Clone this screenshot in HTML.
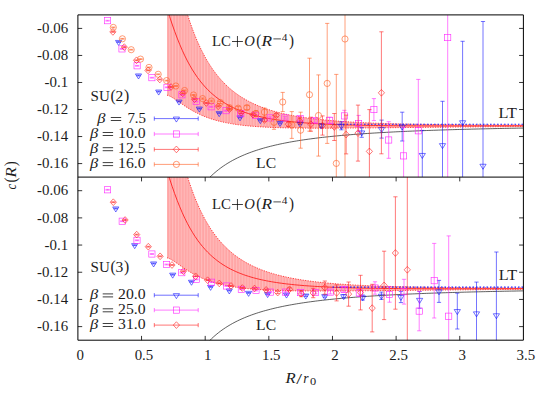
<!DOCTYPE html>
<html><head><meta charset="utf-8"><style>html,body{margin:0;padding:0;background:#fff}svg{display:block}text{font-family:"Liberation Serif",serif;fill:#1c1c1c}</style></head><body>
<svg width="551" height="394" viewBox="0 0 551 394">
<defs>
<clipPath id="clip0"><rect x="77.9" y="14.9" width="445.5" height="162.2"/></clipPath>
<clipPath id="clip1"><rect x="77.9" y="177.1" width="445.5" height="163.1"/></clipPath>
<pattern id="stripes" width="2.9" height="10" patternUnits="userSpaceOnUse"><rect x="0.9" y="0" width="0.75" height="10" fill="#ffc6c6"/><rect x="2.3" y="0" width="0.4" height="10" fill="#ffb4b4"/></pattern>
</defs>
<rect width="551" height="394" fill="#fff"/>
<g clip-path="url(#clip0)">
<path d="M167.00,-35.10 L169.55,-35.10 L172.09,-35.10 L174.64,-35.10 L177.18,-24.60 L179.73,-13.66 L182.27,-3.60 L184.82,5.64 L187.37,14.13 L189.91,21.93 L192.46,29.09 L195.00,35.69 L197.55,41.75 L200.09,47.34 L202.64,52.50 L205.19,57.25 L207.73,61.64 L210.28,65.70 L212.82,69.46 L215.37,72.94 L217.91,76.16 L220.46,79.15 L223.01,81.94 L225.55,84.52 L228.10,86.93 L230.64,89.17 L233.19,91.25 L235.73,93.20 L238.28,95.02 L240.83,96.72 L243.37,98.31 L245.92,99.80 L248.46,101.19 L251.01,102.50 L253.55,103.72 L256.10,104.87 L258.65,105.95 L261.19,106.97 L263.74,107.92 L266.28,108.82 L268.83,109.66 L271.37,110.46 L273.92,111.21 L276.47,111.92 L279.01,112.59 L281.56,113.22 L284.10,113.81 L286.65,114.38 L289.19,114.91 L291.74,115.41 L294.29,115.89 L296.83,116.34 L299.38,116.77 L301.92,117.18 L304.47,117.56 L307.01,117.92 L309.56,118.27 L312.11,118.60 L314.65,118.91 L317.20,119.21 L319.74,119.49 L322.29,119.76 L324.83,120.01 L327.38,120.25 L329.93,120.48 L332.47,120.70 L335.02,120.91 L337.56,121.11 L340.11,121.30 L342.65,121.48 L345.20,121.65 L347.75,121.81 L350.29,121.97 L352.84,122.12 L355.38,122.26 L357.93,122.39 L360.47,122.52 L363.02,122.65 L365.57,122.76 L368.11,122.88 L370.66,122.98 L373.20,123.09 L375.75,123.18 L378.29,123.28 L380.84,123.37 L383.39,123.45 L385.93,123.53 L388.48,123.61 L391.02,123.69 L393.57,123.76 L396.11,123.82 L398.66,123.89 L401.21,123.95 L403.75,124.01 L406.30,124.07 L408.84,124.12 L411.39,124.17 L413.93,124.22 L416.48,124.27 L419.03,124.32 L421.57,124.36 L424.12,124.40 L426.66,124.44 L429.21,124.48 L431.75,124.52 L434.30,124.55 L436.85,124.58 L439.39,124.62 L441.94,124.65 L444.48,124.68 L447.03,124.70 L449.57,124.73 L452.12,124.75 L454.67,124.78 L457.21,124.80 L459.76,124.82 L462.30,124.85 L464.85,124.87 L467.39,124.88 L469.94,124.90 L472.49,124.92 L475.03,124.94 L477.58,124.95 L480.12,124.97 L482.67,124.98 L485.21,125.00 L487.76,125.01 L490.31,125.02 L492.85,125.03 L495.40,125.04 L497.94,125.05 L500.49,125.06 L503.03,125.07 L505.58,125.08 L508.13,125.09 L510.67,125.10 L513.22,125.11 L515.76,125.11 L518.31,125.12 L520.85,125.13 L523.40,125.13 L523.40,126.52 L520.85,126.54 L518.31,126.56 L515.76,126.57 L513.22,126.59 L510.67,126.61 L508.13,126.63 L505.58,126.65 L503.03,126.67 L500.49,126.69 L497.94,126.71 L495.40,126.73 L492.85,126.75 L490.31,126.77 L487.76,126.79 L485.21,126.81 L482.67,126.83 L480.12,126.85 L477.58,126.87 L475.03,126.89 L472.49,126.92 L469.94,126.94 L467.39,126.96 L464.85,126.98 L462.30,127.00 L459.76,127.03 L457.21,127.05 L454.67,127.07 L452.12,127.10 L449.57,127.12 L447.03,127.14 L444.48,127.16 L441.94,127.19 L439.39,127.21 L436.85,127.24 L434.30,127.26 L431.75,127.28 L429.21,127.31 L426.66,127.33 L424.12,127.36 L421.57,127.38 L419.03,127.41 L416.48,127.43 L413.93,127.46 L411.39,127.48 L408.84,127.51 L406.30,127.53 L403.75,127.56 L401.21,127.58 L398.66,127.61 L396.11,127.63 L393.57,127.66 L391.02,127.68 L388.48,127.70 L385.93,127.73 L383.39,127.75 L380.84,127.78 L378.29,127.80 L375.75,127.83 L373.20,127.85 L370.66,127.87 L368.11,127.89 L365.57,127.92 L363.02,127.94 L360.47,127.96 L357.93,127.98 L355.38,128.00 L352.84,128.02 L350.29,128.04 L347.75,128.05 L345.20,128.07 L342.65,128.09 L340.11,128.10 L337.56,128.11 L335.02,128.12 L332.47,128.14 L329.93,128.14 L327.38,128.15 L324.83,128.16 L322.29,128.16 L319.74,128.16 L317.20,128.16 L314.65,128.15 L312.11,128.15 L309.56,128.14 L307.01,128.12 L304.47,128.11 L301.92,128.08 L299.38,128.06 L296.83,128.03 L294.29,128.00 L291.74,127.96 L289.19,127.91 L286.65,127.86 L284.10,127.80 L281.56,127.74 L279.01,127.67 L276.47,127.58 L273.92,127.49 L271.37,127.39 L268.83,127.28 L266.28,127.16 L263.74,127.03 L261.19,126.88 L258.65,126.72 L256.10,126.54 L253.55,126.35 L251.01,126.14 L248.46,125.91 L245.92,125.66 L243.37,125.38 L240.83,125.08 L238.28,124.75 L235.73,124.39 L233.19,124.01 L230.64,123.58 L228.10,123.12 L225.55,122.62 L223.01,122.08 L220.46,121.49 L217.91,120.84 L215.37,120.15 L212.82,119.39 L210.28,118.57 L207.73,117.68 L205.19,116.72 L202.64,115.69 L200.09,114.57 L197.55,113.36 L195.00,112.06 L192.46,110.68 L189.91,109.20 L187.37,107.63 L184.82,105.98 L182.27,104.26 L179.73,102.50 L177.18,100.72 L174.64,98.99 L172.09,97.38 L169.55,96.02 L167.00,95.10 Z" fill="#ffa2a2" stroke="none"/>
<path d="M167.00,-35.10 L169.55,-35.10 L172.09,-35.10 L174.64,-35.10 L177.18,-24.60 L179.73,-13.66 L182.27,-3.60 L184.82,5.64 L187.37,14.13 L189.91,21.93 L192.46,29.09 L195.00,35.69 L197.55,41.75 L200.09,47.34 L202.64,52.50 L205.19,57.25 L207.73,61.64 L210.28,65.70 L212.82,69.46 L215.37,72.94 L217.91,76.16 L220.46,79.15 L223.01,81.94 L225.55,84.52 L228.10,86.93 L230.64,89.17 L233.19,91.25 L235.73,93.20 L238.28,95.02 L240.83,96.72 L243.37,98.31 L245.92,99.80 L248.46,101.19 L251.01,102.50 L253.55,103.72 L256.10,104.87 L258.65,105.95 L261.19,106.97 L263.74,107.92 L266.28,108.82 L268.83,109.66 L271.37,110.46 L273.92,111.21 L276.47,111.92 L279.01,112.59 L281.56,113.22 L284.10,113.81 L286.65,114.38 L289.19,114.91 L291.74,115.41 L294.29,115.89 L296.83,116.34 L299.38,116.77 L301.92,117.18 L304.47,117.56 L307.01,117.92 L309.56,118.27 L312.11,118.60 L314.65,118.91 L317.20,119.21 L319.74,119.49 L322.29,119.76 L324.83,120.01 L327.38,120.25 L329.93,120.48 L332.47,120.70 L335.02,120.91 L337.56,121.11 L340.11,121.30 L342.65,121.48 L345.20,121.65 L347.75,121.81 L350.29,121.97 L352.84,122.12 L355.38,122.26 L357.93,122.39 L360.47,122.52 L363.02,122.65 L365.57,122.76 L368.11,122.88 L370.66,122.98 L373.20,123.09 L375.75,123.18 L378.29,123.28 L380.84,123.37 L383.39,123.45 L385.93,123.53 L388.48,123.61 L391.02,123.69 L393.57,123.76 L396.11,123.82 L398.66,123.89 L401.21,123.95 L403.75,124.01 L406.30,124.07 L408.84,124.12 L411.39,124.17 L413.93,124.22 L416.48,124.27 L419.03,124.32 L421.57,124.36 L424.12,124.40 L426.66,124.44 L429.21,124.48 L431.75,124.52 L434.30,124.55 L436.85,124.58 L439.39,124.62 L441.94,124.65 L444.48,124.68 L447.03,124.70 L449.57,124.73 L452.12,124.75 L454.67,124.78 L457.21,124.80 L459.76,124.82 L462.30,124.85 L464.85,124.87 L467.39,124.88 L469.94,124.90 L472.49,124.92 L475.03,124.94 L477.58,124.95 L480.12,124.97 L482.67,124.98 L485.21,125.00 L487.76,125.01 L490.31,125.02 L492.85,125.03 L495.40,125.04 L497.94,125.05 L500.49,125.06 L503.03,125.07 L505.58,125.08 L508.13,125.09 L510.67,125.10 L513.22,125.11 L515.76,125.11 L518.31,125.12 L520.85,125.13 L523.40,125.13 L523.40,126.52 L520.85,126.54 L518.31,126.56 L515.76,126.57 L513.22,126.59 L510.67,126.61 L508.13,126.63 L505.58,126.65 L503.03,126.67 L500.49,126.69 L497.94,126.71 L495.40,126.73 L492.85,126.75 L490.31,126.77 L487.76,126.79 L485.21,126.81 L482.67,126.83 L480.12,126.85 L477.58,126.87 L475.03,126.89 L472.49,126.92 L469.94,126.94 L467.39,126.96 L464.85,126.98 L462.30,127.00 L459.76,127.03 L457.21,127.05 L454.67,127.07 L452.12,127.10 L449.57,127.12 L447.03,127.14 L444.48,127.16 L441.94,127.19 L439.39,127.21 L436.85,127.24 L434.30,127.26 L431.75,127.28 L429.21,127.31 L426.66,127.33 L424.12,127.36 L421.57,127.38 L419.03,127.41 L416.48,127.43 L413.93,127.46 L411.39,127.48 L408.84,127.51 L406.30,127.53 L403.75,127.56 L401.21,127.58 L398.66,127.61 L396.11,127.63 L393.57,127.66 L391.02,127.68 L388.48,127.70 L385.93,127.73 L383.39,127.75 L380.84,127.78 L378.29,127.80 L375.75,127.83 L373.20,127.85 L370.66,127.87 L368.11,127.89 L365.57,127.92 L363.02,127.94 L360.47,127.96 L357.93,127.98 L355.38,128.00 L352.84,128.02 L350.29,128.04 L347.75,128.05 L345.20,128.07 L342.65,128.09 L340.11,128.10 L337.56,128.11 L335.02,128.12 L332.47,128.14 L329.93,128.14 L327.38,128.15 L324.83,128.16 L322.29,128.16 L319.74,128.16 L317.20,128.16 L314.65,128.15 L312.11,128.15 L309.56,128.14 L307.01,128.12 L304.47,128.11 L301.92,128.08 L299.38,128.06 L296.83,128.03 L294.29,128.00 L291.74,127.96 L289.19,127.91 L286.65,127.86 L284.10,127.80 L281.56,127.74 L279.01,127.67 L276.47,127.58 L273.92,127.49 L271.37,127.39 L268.83,127.28 L266.28,127.16 L263.74,127.03 L261.19,126.88 L258.65,126.72 L256.10,126.54 L253.55,126.35 L251.01,126.14 L248.46,125.91 L245.92,125.66 L243.37,125.38 L240.83,125.08 L238.28,124.75 L235.73,124.39 L233.19,124.01 L230.64,123.58 L228.10,123.12 L225.55,122.62 L223.01,122.08 L220.46,121.49 L217.91,120.84 L215.37,120.15 L212.82,119.39 L210.28,118.57 L207.73,117.68 L205.19,116.72 L202.64,115.69 L200.09,114.57 L197.55,113.36 L195.00,112.06 L192.46,110.68 L189.91,109.20 L187.37,107.63 L184.82,105.98 L182.27,104.26 L179.73,102.50 L177.18,100.72 L174.64,98.99 L172.09,97.38 L169.55,96.02 L167.00,95.10 Z" fill="url(#stripes)" stroke="none"/>
<path d="M167.00,-35.10 L169.55,-35.10 L172.09,-35.10 L174.64,-35.10 L177.18,-24.60 L179.73,-13.66 L182.27,-3.60 L184.82,5.64 L187.37,14.13 L189.91,21.93 L192.46,29.09 L195.00,35.69 L197.55,41.75 L200.09,47.34 L202.64,52.50 L205.19,57.25 L207.73,61.64 L210.28,65.70 L212.82,69.46 L215.37,72.94 L217.91,76.16 L220.46,79.15 L223.01,81.94 L225.55,84.52 L228.10,86.93 L230.64,89.17 L233.19,91.25 L235.73,93.20 L238.28,95.02 L240.83,96.72 L243.37,98.31 L245.92,99.80 L248.46,101.19 L251.01,102.50 L253.55,103.72 L256.10,104.87 L258.65,105.95 L261.19,106.97 L263.74,107.92 L266.28,108.82 L268.83,109.66 L271.37,110.46 L273.92,111.21 L276.47,111.92 L279.01,112.59 L281.56,113.22 L284.10,113.81 L286.65,114.38 L289.19,114.91 L291.74,115.41 L294.29,115.89 L296.83,116.34 L299.38,116.77 L301.92,117.18 L304.47,117.56 L307.01,117.92 L309.56,118.27 L312.11,118.60 L314.65,118.91 L317.20,119.21 L319.74,119.49 L322.29,119.76 L324.83,120.01 L327.38,120.25 L329.93,120.48 L332.47,120.70 L335.02,120.91 L337.56,121.11 L340.11,121.30 L342.65,121.48 L345.20,121.65 L347.75,121.81 L350.29,121.97 L352.84,122.12 L355.38,122.26 L357.93,122.39 L360.47,122.52 L363.02,122.65 L365.57,122.76 L368.11,122.88 L370.66,122.98 L373.20,123.09 L375.75,123.18 L378.29,123.28 L380.84,123.37 L383.39,123.45 L385.93,123.53 L388.48,123.61 L391.02,123.69 L393.57,123.76 L396.11,123.82 L398.66,123.89 L401.21,123.95 L403.75,124.01 L406.30,124.07 L408.84,124.12 L411.39,124.17 L413.93,124.22 L416.48,124.27 L419.03,124.32 L421.57,124.36 L424.12,124.40 L426.66,124.44 L429.21,124.48 L431.75,124.52 L434.30,124.55 L436.85,124.58 L439.39,124.62 L441.94,124.65 L444.48,124.68 L447.03,124.70 L449.57,124.73 L452.12,124.75 L454.67,124.78 L457.21,124.80 L459.76,124.82 L462.30,124.85 L464.85,124.87 L467.39,124.88 L469.94,124.90 L472.49,124.92 L475.03,124.94 L477.58,124.95 L480.12,124.97 L482.67,124.98 L485.21,125.00 L487.76,125.01 L490.31,125.02 L492.85,125.03 L495.40,125.04 L497.94,125.05 L500.49,125.06 L503.03,125.07 L505.58,125.08 L508.13,125.09 L510.67,125.10 L513.22,125.11 L515.76,125.11 L518.31,125.12 L520.85,125.13 L523.40,125.13" fill="none" stroke="#ff3030" stroke-width="0.9" stroke-dasharray="1.2,1.3"/>
<path d="M167.00,95.10 L169.55,96.02 L172.09,97.38 L174.64,98.99 L177.18,100.72 L179.73,102.50 L182.27,104.26 L184.82,105.98 L187.37,107.63 L189.91,109.20 L192.46,110.68 L195.00,112.06 L197.55,113.36 L200.09,114.57 L202.64,115.69 L205.19,116.72 L207.73,117.68 L210.28,118.57 L212.82,119.39 L215.37,120.15 L217.91,120.84 L220.46,121.49 L223.01,122.08 L225.55,122.62 L228.10,123.12 L230.64,123.58 L233.19,124.01 L235.73,124.39 L238.28,124.75 L240.83,125.08 L243.37,125.38 L245.92,125.66 L248.46,125.91 L251.01,126.14 L253.55,126.35 L256.10,126.54 L258.65,126.72 L261.19,126.88 L263.74,127.03 L266.28,127.16 L268.83,127.28 L271.37,127.39 L273.92,127.49 L276.47,127.58 L279.01,127.67 L281.56,127.74 L284.10,127.80 L286.65,127.86 L289.19,127.91 L291.74,127.96 L294.29,128.00 L296.83,128.03 L299.38,128.06 L301.92,128.08 L304.47,128.11 L307.01,128.12 L309.56,128.14 L312.11,128.15 L314.65,128.15 L317.20,128.16 L319.74,128.16 L322.29,128.16 L324.83,128.16 L327.38,128.15 L329.93,128.14 L332.47,128.14 L335.02,128.12 L337.56,128.11 L340.11,128.10 L342.65,128.09 L345.20,128.07 L347.75,128.05 L350.29,128.04 L352.84,128.02 L355.38,128.00 L357.93,127.98 L360.47,127.96 L363.02,127.94 L365.57,127.92 L368.11,127.89 L370.66,127.87 L373.20,127.85 L375.75,127.83 L378.29,127.80 L380.84,127.78 L383.39,127.75 L385.93,127.73 L388.48,127.70 L391.02,127.68 L393.57,127.66 L396.11,127.63 L398.66,127.61 L401.21,127.58 L403.75,127.56 L406.30,127.53 L408.84,127.51 L411.39,127.48 L413.93,127.46 L416.48,127.43 L419.03,127.41 L421.57,127.38 L424.12,127.36 L426.66,127.33 L429.21,127.31 L431.75,127.28 L434.30,127.26 L436.85,127.24 L439.39,127.21 L441.94,127.19 L444.48,127.16 L447.03,127.14 L449.57,127.12 L452.12,127.10 L454.67,127.07 L457.21,127.05 L459.76,127.03 L462.30,127.00 L464.85,126.98 L467.39,126.96 L469.94,126.94 L472.49,126.92 L475.03,126.89 L477.58,126.87 L480.12,126.85 L482.67,126.83 L485.21,126.81 L487.76,126.79 L490.31,126.77 L492.85,126.75 L495.40,126.73 L497.94,126.71 L500.49,126.69 L503.03,126.67 L505.58,126.65 L508.13,126.63 L510.67,126.61 L513.22,126.59 L515.76,126.57 L518.31,126.56 L520.85,126.54 L523.40,126.52" fill="none" stroke="#ff3030" stroke-width="0.9" stroke-dasharray="1.2,1.3"/>
<path d="M167.00,8.40 L169.55,16.35 L172.09,24.00 L174.64,31.25 L177.18,38.06 L179.73,44.42 L182.27,50.33 L184.82,55.81 L187.37,60.88 L189.91,65.56 L192.46,69.89 L195.00,73.88 L197.55,77.56 L200.09,80.95 L202.64,84.09 L205.19,86.99 L207.73,89.66 L210.28,92.14 L212.82,94.42 L215.37,96.54 L217.91,98.50 L220.46,100.32 L223.01,102.01 L225.55,103.57 L228.10,105.02 L230.64,106.37 L233.19,107.63 L235.73,108.80 L238.28,109.89 L240.83,110.90 L243.37,111.85 L245.92,112.73 L248.46,113.55 L251.01,114.32 L253.55,115.04 L256.10,115.71 L258.65,116.34 L261.19,116.92 L263.74,117.47 L266.28,117.99 L268.83,118.47 L271.37,118.93 L273.92,119.35 L276.47,119.75 L279.01,120.13 L281.56,120.48 L284.10,120.81 L286.65,121.12 L289.19,121.41 L291.74,121.69 L294.29,121.94 L296.83,122.19 L299.38,122.42 L301.92,122.63 L304.47,122.83 L307.01,123.02 L309.56,123.20 L312.11,123.37 L314.65,123.53 L317.20,123.68 L319.74,123.82 L322.29,123.96 L324.83,124.08 L327.38,124.20 L329.93,124.31 L332.47,124.42 L335.02,124.52 L337.56,124.61 L340.11,124.70 L342.65,124.78 L345.20,124.86 L347.75,124.93 L350.29,125.00 L352.84,125.07 L355.38,125.13 L357.93,125.19 L360.47,125.24 L363.02,125.29 L365.57,125.34 L368.11,125.39 L370.66,125.43 L373.20,125.47 L375.75,125.50 L378.29,125.54 L380.84,125.57 L383.39,125.60 L385.93,125.63 L388.48,125.66 L391.02,125.68 L393.57,125.71 L396.11,125.73 L398.66,125.75 L401.21,125.77 L403.75,125.78 L406.30,125.80 L408.84,125.81 L411.39,125.83 L413.93,125.84 L416.48,125.85 L419.03,125.86 L421.57,125.87 L424.12,125.88 L426.66,125.89 L429.21,125.89 L431.75,125.90 L434.30,125.91 L436.85,125.91 L439.39,125.91 L441.94,125.92 L444.48,125.92 L447.03,125.92 L449.57,125.92 L452.12,125.92 L454.67,125.93 L457.21,125.93 L459.76,125.93 L462.30,125.92 L464.85,125.92 L467.39,125.92 L469.94,125.92 L472.49,125.92 L475.03,125.92 L477.58,125.91 L480.12,125.91 L482.67,125.91 L485.21,125.90 L487.76,125.90 L490.31,125.89 L492.85,125.89 L495.40,125.89 L497.94,125.88 L500.49,125.88 L503.03,125.87 L505.58,125.87 L508.13,125.86 L510.67,125.86 L513.22,125.85 L515.76,125.84 L518.31,125.84 L520.85,125.83 L523.40,125.83" fill="none" stroke="#ff2020" stroke-width="0.9"/>
<path d="M332.47,124.25 H523.4" stroke="#2020ff" stroke-width="1.2" stroke-dasharray="1.6,1.9" fill="none"/>
<path d="M192.46,200.60 L194.82,196.55 L197.18,192.83 L199.55,189.41 L201.91,186.26 L204.28,183.34 L206.64,180.64 L209.00,178.13 L211.37,175.79 L213.73,173.61 L216.10,171.58 L218.46,169.67 L220.82,167.88 L223.19,166.20 L225.55,164.62 L227.92,163.13 L230.28,161.73 L232.64,160.40 L235.01,159.15 L237.37,157.96 L239.73,156.84 L242.10,155.77 L244.46,154.76 L246.83,153.79 L249.19,152.88 L251.55,152.00 L253.92,151.17 L256.28,150.38 L258.65,149.62 L261.01,148.89 L263.37,148.20 L265.74,147.53 L268.10,146.90 L270.47,146.29 L272.83,145.71 L275.19,145.14 L277.56,144.61 L279.92,144.09 L282.28,143.59 L284.65,143.11 L287.01,142.65 L289.38,142.21 L291.74,141.78 L294.10,141.37 L296.47,140.97 L298.83,140.59 L301.20,140.22 L303.56,139.86 L305.92,139.52 L308.29,139.19 L310.65,138.86 L313.01,138.55 L315.38,138.25 L317.74,137.96 L320.11,137.67 L322.47,137.40 L324.83,137.13 L327.20,136.88 L329.56,136.63 L331.93,136.38 L334.29,136.15 L336.65,135.92 L339.02,135.70 L341.38,135.48 L343.75,135.27 L346.11,135.07 L348.47,134.87 L350.84,134.68 L353.20,134.49 L355.56,134.31 L357.93,134.14 L360.29,133.96 L362.66,133.80 L365.02,133.63 L367.38,133.47 L369.75,133.32 L372.11,133.17 L374.48,133.02 L376.84,132.88 L379.20,132.74 L381.57,132.60 L383.93,132.47 L386.30,132.34 L388.66,132.21 L391.02,132.08 L393.39,131.96 L395.75,131.84 L398.11,131.73 L400.48,131.62 L402.84,131.51 L405.21,131.40 L407.57,131.29 L409.93,131.19 L412.30,131.09 L414.66,130.99 L417.03,130.89 L419.39,130.80 L421.75,130.71 L424.12,130.62 L426.48,130.53 L428.84,130.44 L431.21,130.35 L433.57,130.27 L435.94,130.19 L438.30,130.11 L440.66,130.03 L443.03,129.96 L445.39,129.88 L447.76,129.81 L450.12,129.73 L452.48,129.66 L454.85,129.59 L457.21,129.53 L459.58,129.46 L461.94,129.39 L464.30,129.33 L466.67,129.27 L469.03,129.21 L471.39,129.14 L473.76,129.08 L476.12,129.03 L478.49,128.97 L480.85,128.91 L483.21,128.86 L485.58,128.80 L487.94,128.75 L490.31,128.70 L492.67,128.65 L495.03,128.59 L497.40,128.54 L499.76,128.50 L502.13,128.45 L504.49,128.40 L506.85,128.35 L509.22,128.31 L511.58,128.26 L513.94,128.22 L516.31,128.18 L518.67,128.13 L521.04,128.09 L523.40,128.05" fill="none" stroke="#222" stroke-width="0.72"/>
</g>
<g clip-path="url(#clip0)">
<path d="M118.60,41.60 V42.40 M116.50,41.60 H120.70 M116.50,42.40 H120.70" stroke="#1010ff" stroke-width="0.58" fill="none"/>
<path d="M115.50,40.45 L121.70,40.45 L118.60,45.47 Z" fill="none" stroke="#1010ff" stroke-width="0.6"/>
<path d="M138.50,75.10 V75.90 M136.40,75.10 H140.60 M136.40,75.90 H140.60" stroke="#1010ff" stroke-width="0.58" fill="none"/>
<path d="M135.40,73.95 L141.60,73.95 L138.50,78.97 Z" fill="none" stroke="#1010ff" stroke-width="0.6"/>
<path d="M158.70,91.20 V92.00 M156.60,91.20 H160.80 M156.60,92.00 H160.80" stroke="#1010ff" stroke-width="0.58" fill="none"/>
<path d="M155.60,90.05 L161.80,90.05 L158.70,95.07 Z" fill="none" stroke="#1010ff" stroke-width="0.6"/>
<path d="M179.00,101.20 V102.00 M176.90,101.20 H181.10 M176.90,102.00 H181.10" stroke="#1010ff" stroke-width="0.58" fill="none"/>
<path d="M175.90,100.05 L182.10,100.05 L179.00,105.07 Z" fill="none" stroke="#1010ff" stroke-width="0.6"/>
<path d="M199.30,108.20 V109.00 M197.20,108.20 H201.40 M197.20,109.00 H201.40" stroke="#1010ff" stroke-width="0.58" fill="none"/>
<path d="M196.20,107.05 L202.40,107.05 L199.30,112.07 Z" fill="none" stroke="#1010ff" stroke-width="0.6"/>
<path d="M219.20,112.70 V113.70 M217.10,112.70 H221.30 M217.10,113.70 H221.30" stroke="#1010ff" stroke-width="0.58" fill="none"/>
<path d="M216.10,111.65 L222.30,111.65 L219.20,116.67 Z" fill="none" stroke="#1010ff" stroke-width="0.6"/>
<path d="M240.00,116.90 V117.90 M237.90,116.90 H242.10 M237.90,117.90 H242.10" stroke="#1010ff" stroke-width="0.58" fill="none"/>
<path d="M236.90,115.85 L243.10,115.85 L240.00,120.87 Z" fill="none" stroke="#1010ff" stroke-width="0.6"/>
<path d="M260.30,119.60 V120.80 M258.20,119.60 H262.40 M258.20,120.80 H262.40" stroke="#1010ff" stroke-width="0.58" fill="none"/>
<path d="M257.20,118.65 L263.40,118.65 L260.30,123.67 Z" fill="none" stroke="#1010ff" stroke-width="0.6"/>
<path d="M280.00,122.20 V123.80 M277.90,122.20 H282.10 M277.90,123.80 H282.10" stroke="#1010ff" stroke-width="0.58" fill="none"/>
<path d="M276.90,121.45 L283.10,121.45 L280.00,126.47 Z" fill="none" stroke="#1010ff" stroke-width="0.6"/>
<path d="M300.10,122.60 V124.60 M298.00,122.60 H302.20 M298.00,124.60 H302.20" stroke="#1010ff" stroke-width="0.58" fill="none"/>
<path d="M297.00,122.05 L303.20,122.05 L300.10,127.07 Z" fill="none" stroke="#1010ff" stroke-width="0.6"/>
<path d="M321.40,123.80 V127.40 M319.30,123.80 H323.50 M319.30,127.40 H323.50" stroke="#1010ff" stroke-width="0.58" fill="none"/>
<path d="M318.30,124.05 L324.50,124.05 L321.40,129.07 Z" fill="none" stroke="#1010ff" stroke-width="0.6"/>
<path d="M341.40,121.80 V129.80 M339.30,121.80 H343.50 M339.30,129.80 H343.50" stroke="#1010ff" stroke-width="0.58" fill="none"/>
<path d="M338.30,124.25 L344.50,124.25 L341.40,129.27 Z" fill="none" stroke="#1010ff" stroke-width="0.6"/>
<path d="M361.70,127.70 V137.30 M359.60,127.70 H363.80 M359.60,137.30 H363.80" stroke="#1010ff" stroke-width="0.58" fill="none"/>
<path d="M358.60,130.95 L364.80,130.95 L361.70,135.97 Z" fill="none" stroke="#1010ff" stroke-width="0.6"/>
<path d="M381.60,120.10 V138.10 M379.50,120.10 H383.70 M379.50,138.10 H383.70" stroke="#1010ff" stroke-width="0.58" fill="none"/>
<path d="M378.50,127.55 L384.70,127.55 L381.60,132.57 Z" fill="none" stroke="#1010ff" stroke-width="0.6"/>
<path d="M402.20,112.20 V141.00 M400.10,112.20 H404.30 M400.10,141.00 H404.30" stroke="#1010ff" stroke-width="0.58" fill="none"/>
<path d="M399.10,125.05 L405.30,125.05 L402.20,130.07 Z" fill="none" stroke="#1010ff" stroke-width="0.6"/>
<path d="M422.30,130.40 V179.60 M420.20,130.40 H424.40 M420.20,179.60 H424.40" stroke="#1010ff" stroke-width="0.58" fill="none"/>
<path d="M419.20,153.45 L425.40,153.45 L422.30,158.47 Z" fill="none" stroke="#1010ff" stroke-width="0.6"/>
<path d="M442.50,101.30 V189.10 M440.40,101.30 H444.60 M440.40,189.10 H444.60" stroke="#1010ff" stroke-width="0.58" fill="none"/>
<path d="M439.40,143.65 L445.60,143.65 L442.50,148.67 Z" fill="none" stroke="#1010ff" stroke-width="0.6"/>
<path d="M462.60,41.30 V203.30 M460.50,41.30 H464.70 M460.50,203.30 H464.70" stroke="#1010ff" stroke-width="0.58" fill="none"/>
<path d="M459.50,120.75 L465.70,120.75 L462.60,125.77 Z" fill="none" stroke="#1010ff" stroke-width="0.6"/>
<path d="M483.00,21.50 V310.10 M480.90,21.50 H485.10 M480.90,310.10 H485.10" stroke="#1010ff" stroke-width="0.58" fill="none"/>
<path d="M479.90,164.25 L486.10,164.25 L483.00,169.27 Z" fill="none" stroke="#1010ff" stroke-width="0.6"/>
<path d="M107.60,20.30 V21.10 M105.50,20.30 H109.70 M105.50,21.10 H109.70" stroke="#ff22ff" stroke-width="0.58" fill="none"/>
<rect x="104.50" y="17.60" width="6.2" height="6.2" fill="none" stroke="#ff22ff" stroke-width="0.6"/>
<path d="M122.00,48.50 V49.30 M119.90,48.50 H124.10 M119.90,49.30 H124.10" stroke="#ff22ff" stroke-width="0.58" fill="none"/>
<rect x="118.90" y="45.80" width="6.2" height="6.2" fill="none" stroke="#ff22ff" stroke-width="0.6"/>
<path d="M137.10,65.40 V66.20 M135.00,65.40 H139.20 M135.00,66.20 H139.20" stroke="#ff22ff" stroke-width="0.58" fill="none"/>
<rect x="134.00" y="62.70" width="6.2" height="6.2" fill="none" stroke="#ff22ff" stroke-width="0.6"/>
<path d="M151.90,77.30 V78.10 M149.80,77.30 H154.00 M149.80,78.10 H154.00" stroke="#ff22ff" stroke-width="0.58" fill="none"/>
<rect x="148.80" y="74.60" width="6.2" height="6.2" fill="none" stroke="#ff22ff" stroke-width="0.6"/>
<path d="M167.00,86.90 V87.70 M164.90,86.90 H169.10 M164.90,87.70 H169.10" stroke="#ff22ff" stroke-width="0.58" fill="none"/>
<rect x="163.90" y="84.20" width="6.2" height="6.2" fill="none" stroke="#ff22ff" stroke-width="0.6"/>
<path d="M181.90,94.40 V95.20 M179.80,94.40 H184.00 M179.80,95.20 H184.00" stroke="#ff22ff" stroke-width="0.58" fill="none"/>
<rect x="178.80" y="91.70" width="6.2" height="6.2" fill="none" stroke="#ff22ff" stroke-width="0.6"/>
<path d="M196.20,101.10 V101.90 M194.10,101.10 H198.30 M194.10,101.90 H198.30" stroke="#ff22ff" stroke-width="0.58" fill="none"/>
<rect x="193.10" y="98.40" width="6.2" height="6.2" fill="none" stroke="#ff22ff" stroke-width="0.6"/>
<path d="M211.10,106.30 V107.30 M209.00,106.30 H213.20 M209.00,107.30 H213.20" stroke="#ff22ff" stroke-width="0.58" fill="none"/>
<rect x="208.00" y="103.70" width="6.2" height="6.2" fill="none" stroke="#ff22ff" stroke-width="0.6"/>
<path d="M226.00,110.20 V111.20 M223.90,110.20 H228.10 M223.90,111.20 H228.10" stroke="#ff22ff" stroke-width="0.58" fill="none"/>
<rect x="222.90" y="107.60" width="6.2" height="6.2" fill="none" stroke="#ff22ff" stroke-width="0.6"/>
<path d="M240.80,113.10 V114.30 M238.70,113.10 H242.90 M238.70,114.30 H242.90" stroke="#ff22ff" stroke-width="0.58" fill="none"/>
<rect x="237.70" y="110.60" width="6.2" height="6.2" fill="none" stroke="#ff22ff" stroke-width="0.6"/>
<path d="M255.50,114.50 V116.10 M253.40,114.50 H257.60 M253.40,116.10 H257.60" stroke="#ff22ff" stroke-width="0.58" fill="none"/>
<rect x="252.40" y="112.20" width="6.2" height="6.2" fill="none" stroke="#ff22ff" stroke-width="0.6"/>
<path d="M270.20,116.90 V118.90 M268.10,116.90 H272.30 M268.10,118.90 H272.30" stroke="#ff22ff" stroke-width="0.58" fill="none"/>
<rect x="267.10" y="114.80" width="6.2" height="6.2" fill="none" stroke="#ff22ff" stroke-width="0.6"/>
<path d="M284.90,116.70 V119.10 M282.80,116.70 H287.00 M282.80,119.10 H287.00" stroke="#ff22ff" stroke-width="0.58" fill="none"/>
<rect x="281.80" y="114.80" width="6.2" height="6.2" fill="none" stroke="#ff22ff" stroke-width="0.6"/>
<path d="M300.10,116.50 V120.50 M298.00,116.50 H302.20 M298.00,120.50 H302.20" stroke="#ff22ff" stroke-width="0.58" fill="none"/>
<rect x="297.00" y="115.40" width="6.2" height="6.2" fill="none" stroke="#ff22ff" stroke-width="0.6"/>
<path d="M314.70,118.40 V122.40 M312.60,118.40 H316.80 M312.60,122.40 H316.80" stroke="#ff22ff" stroke-width="0.58" fill="none"/>
<rect x="311.60" y="117.30" width="6.2" height="6.2" fill="none" stroke="#ff22ff" stroke-width="0.6"/>
<path d="M329.60,117.30 V123.30 M327.50,117.30 H331.70 M327.50,123.30 H331.70" stroke="#ff22ff" stroke-width="0.58" fill="none"/>
<rect x="326.50" y="117.20" width="6.2" height="6.2" fill="none" stroke="#ff22ff" stroke-width="0.6"/>
<path d="M344.40,110.30 V121.50 M342.30,110.30 H346.50 M342.30,121.50 H346.50" stroke="#ff22ff" stroke-width="0.58" fill="none"/>
<rect x="341.30" y="112.80" width="6.2" height="6.2" fill="none" stroke="#ff22ff" stroke-width="0.6"/>
<path d="M358.60,115.40 V131.40 M356.50,115.40 H360.70 M356.50,131.40 H360.70" stroke="#ff22ff" stroke-width="0.58" fill="none"/>
<rect x="355.50" y="120.30" width="6.2" height="6.2" fill="none" stroke="#ff22ff" stroke-width="0.6"/>
<path d="M373.90,98.60 V120.60 M371.80,98.60 H376.00 M371.80,120.60 H376.00" stroke="#ff22ff" stroke-width="0.58" fill="none"/>
<rect x="370.80" y="106.50" width="6.2" height="6.2" fill="none" stroke="#ff22ff" stroke-width="0.6"/>
<path d="M388.70,121.70 V158.30 M386.60,121.70 H390.80 M386.60,158.30 H390.80" stroke="#ff22ff" stroke-width="0.58" fill="none"/>
<rect x="385.60" y="136.90" width="6.2" height="6.2" fill="none" stroke="#ff22ff" stroke-width="0.6"/>
<path d="M403.60,127.30 V184.50 M401.50,127.30 H405.70 M401.50,184.50 H405.70" stroke="#ff22ff" stroke-width="0.58" fill="none"/>
<rect x="400.50" y="152.80" width="6.2" height="6.2" fill="none" stroke="#ff22ff" stroke-width="0.6"/>
<path d="M418.30,79.40 V182.20 M416.20,79.40 H420.40 M416.20,182.20 H420.40" stroke="#ff22ff" stroke-width="0.58" fill="none"/>
<rect x="415.20" y="127.70" width="6.2" height="6.2" fill="none" stroke="#ff22ff" stroke-width="0.6"/>
<path d="M447.70,-162.40 V237.60 M445.60,-162.40 H449.80 M445.60,237.60 H449.80" stroke="#ff22ff" stroke-width="0.58" fill="none"/>
<rect x="444.60" y="34.50" width="6.2" height="6.2" fill="none" stroke="#ff22ff" stroke-width="0.6"/>
<path d="M112.90,31.50 V32.30 M110.80,31.50 H115.00 M110.80,32.30 H115.00" stroke="#ff1a1a" stroke-width="0.58" fill="none"/>
<path d="M109.80,31.90 L112.90,28.55 L116.00,31.90 L112.90,35.25 Z" fill="none" stroke="#ff1a1a" stroke-width="0.6"/>
<path d="M124.30,46.70 V47.50 M122.20,46.70 H126.40 M122.20,47.50 H126.40" stroke="#ff1a1a" stroke-width="0.58" fill="none"/>
<path d="M121.20,47.10 L124.30,43.75 L127.40,47.10 L124.30,50.45 Z" fill="none" stroke="#ff1a1a" stroke-width="0.6"/>
<path d="M136.50,59.90 V60.70 M134.40,59.90 H138.60 M134.40,60.70 H138.60" stroke="#ff1a1a" stroke-width="0.58" fill="none"/>
<path d="M133.40,60.30 L136.50,56.95 L139.60,60.30 L136.50,63.65 Z" fill="none" stroke="#ff1a1a" stroke-width="0.6"/>
<path d="M148.00,70.00 V70.80 M145.90,70.00 H150.10 M145.90,70.80 H150.10" stroke="#ff1a1a" stroke-width="0.58" fill="none"/>
<path d="M144.90,70.40 L148.00,67.05 L151.10,70.40 L148.00,73.75 Z" fill="none" stroke="#ff1a1a" stroke-width="0.6"/>
<path d="M159.80,79.10 V79.90 M157.70,79.10 H161.90 M157.70,79.90 H161.90" stroke="#ff1a1a" stroke-width="0.58" fill="none"/>
<path d="M156.70,79.50 L159.80,76.15 L162.90,79.50 L159.80,82.85 Z" fill="none" stroke="#ff1a1a" stroke-width="0.6"/>
<path d="M171.00,86.60 V87.40 M168.90,86.60 H173.10 M168.90,87.40 H173.10" stroke="#ff1a1a" stroke-width="0.58" fill="none"/>
<path d="M167.90,87.00 L171.00,83.65 L174.10,87.00 L171.00,90.35 Z" fill="none" stroke="#ff1a1a" stroke-width="0.6"/>
<path d="M182.80,93.00 V93.80 M180.70,93.00 H184.90 M180.70,93.80 H184.90" stroke="#ff1a1a" stroke-width="0.58" fill="none"/>
<path d="M179.70,93.40 L182.80,90.05 L185.90,93.40 L182.80,96.75 Z" fill="none" stroke="#ff1a1a" stroke-width="0.6"/>
<path d="M194.50,98.80 V99.60 M192.40,98.80 H196.60 M192.40,99.60 H196.60" stroke="#ff1a1a" stroke-width="0.58" fill="none"/>
<path d="M191.40,99.20 L194.50,95.85 L197.60,99.20 L194.50,102.55 Z" fill="none" stroke="#ff1a1a" stroke-width="0.6"/>
<path d="M206.30,102.50 V103.50 M204.20,102.50 H208.40 M204.20,103.50 H208.40" stroke="#ff1a1a" stroke-width="0.58" fill="none"/>
<path d="M203.20,103.00 L206.30,99.65 L209.40,103.00 L206.30,106.35 Z" fill="none" stroke="#ff1a1a" stroke-width="0.6"/>
<path d="M218.20,105.80 V106.80 M216.10,105.80 H220.30 M216.10,106.80 H220.30" stroke="#ff1a1a" stroke-width="0.58" fill="none"/>
<path d="M215.10,106.30 L218.20,102.95 L221.30,106.30 L218.20,109.65 Z" fill="none" stroke="#ff1a1a" stroke-width="0.6"/>
<path d="M229.60,108.50 V109.70 M227.50,108.50 H231.70 M227.50,109.70 H231.70" stroke="#ff1a1a" stroke-width="0.58" fill="none"/>
<path d="M226.50,109.10 L229.60,105.75 L232.70,109.10 L229.60,112.45 Z" fill="none" stroke="#ff1a1a" stroke-width="0.6"/>
<path d="M241.20,111.90 V113.50 M239.10,111.90 H243.30 M239.10,113.50 H243.30" stroke="#ff1a1a" stroke-width="0.58" fill="none"/>
<path d="M238.10,112.70 L241.20,109.35 L244.30,112.70 L241.20,116.05 Z" fill="none" stroke="#ff1a1a" stroke-width="0.6"/>
<path d="M253.00,113.70 V115.70 M250.90,113.70 H255.10 M250.90,115.70 H255.10" stroke="#ff1a1a" stroke-width="0.58" fill="none"/>
<path d="M249.90,114.70 L253.00,111.35 L256.10,114.70 L253.00,118.05 Z" fill="none" stroke="#ff1a1a" stroke-width="0.6"/>
<path d="M264.50,118.70 V121.30 M262.40,118.70 H266.60 M262.40,121.30 H266.60" stroke="#ff1a1a" stroke-width="0.58" fill="none"/>
<path d="M261.40,120.00 L264.50,116.65 L267.60,120.00 L264.50,123.35 Z" fill="none" stroke="#ff1a1a" stroke-width="0.6"/>
<path d="M276.30,113.70 V116.90 M274.20,113.70 H278.40 M274.20,116.90 H278.40" stroke="#ff1a1a" stroke-width="0.58" fill="none"/>
<path d="M273.20,115.30 L276.30,111.95 L279.40,115.30 L276.30,118.65 Z" fill="none" stroke="#ff1a1a" stroke-width="0.6"/>
<path d="M288.30,122.00 V126.40 M286.20,122.00 H290.40 M286.20,126.40 H290.40" stroke="#ff1a1a" stroke-width="0.58" fill="none"/>
<path d="M285.20,124.20 L288.30,120.85 L291.40,124.20 L288.30,127.55 Z" fill="none" stroke="#ff1a1a" stroke-width="0.6"/>
<path d="M299.70,118.00 V124.00 M297.60,118.00 H301.80 M297.60,124.00 H301.80" stroke="#ff1a1a" stroke-width="0.58" fill="none"/>
<path d="M296.60,121.00 L299.70,117.65 L302.80,121.00 L299.70,124.35 Z" fill="none" stroke="#ff1a1a" stroke-width="0.6"/>
<path d="M310.90,117.20 V131.20 M308.80,117.20 H313.00 M308.80,131.20 H313.00" stroke="#ff1a1a" stroke-width="0.58" fill="none"/>
<path d="M307.80,124.20 L310.90,120.85 L314.00,124.20 L310.90,127.55 Z" fill="none" stroke="#ff1a1a" stroke-width="0.6"/>
<path d="M322.50,115.90 V135.10 M320.40,115.90 H324.60 M320.40,135.10 H324.60" stroke="#ff1a1a" stroke-width="0.58" fill="none"/>
<path d="M319.40,125.50 L322.50,122.15 L325.60,125.50 L322.50,128.85 Z" fill="none" stroke="#ff1a1a" stroke-width="0.6"/>
<path d="M334.30,113.50 V140.50 M332.20,113.50 H336.40 M332.20,140.50 H336.40" stroke="#ff1a1a" stroke-width="0.58" fill="none"/>
<path d="M331.20,127.00 L334.30,123.65 L337.40,127.00 L334.30,130.35 Z" fill="none" stroke="#ff1a1a" stroke-width="0.6"/>
<path d="M346.10,115.10 V153.90 M344.00,115.10 H348.20 M344.00,153.90 H348.20" stroke="#ff1a1a" stroke-width="0.58" fill="none"/>
<path d="M343.00,134.50 L346.10,131.15 L349.20,134.50 L346.10,137.85 Z" fill="none" stroke="#ff1a1a" stroke-width="0.6"/>
<path d="M358.00,105.10 V161.10 M355.90,105.10 H360.10 M355.90,161.10 H360.10" stroke="#ff1a1a" stroke-width="0.58" fill="none"/>
<path d="M354.90,133.10 L358.00,129.75 L361.10,133.10 L358.00,136.45 Z" fill="none" stroke="#ff1a1a" stroke-width="0.6"/>
<path d="M369.40,109.60 V193.20 M367.30,109.60 H371.50 M367.30,193.20 H371.50" stroke="#ff1a1a" stroke-width="0.58" fill="none"/>
<path d="M366.30,151.40 L369.40,148.05 L372.50,151.40 L369.40,154.75 Z" fill="none" stroke="#ff1a1a" stroke-width="0.6"/>
<path d="M381.40,31.80 V153.80 M379.30,31.80 H383.50 M379.30,153.80 H383.50" stroke="#ff1a1a" stroke-width="0.58" fill="none"/>
<path d="M378.30,92.80 L381.40,89.45 L384.50,92.80 L381.40,96.15 Z" fill="none" stroke="#ff1a1a" stroke-width="0.6"/>
<path d="M113.30,27.00 V27.80 M111.20,27.00 H115.40 M111.20,27.80 H115.40" stroke="#ff5a1e" stroke-width="0.58" fill="none"/>
<circle cx="113.30" cy="27.40" r="3.1" fill="none" stroke="#ff5a1e" stroke-width="0.6"/>
<path d="M122.40,38.40 V39.20 M120.30,38.40 H124.50 M120.30,39.20 H124.50" stroke="#ff5a1e" stroke-width="0.58" fill="none"/>
<circle cx="122.40" cy="38.80" r="3.1" fill="none" stroke="#ff5a1e" stroke-width="0.6"/>
<path d="M131.20,49.30 V50.10 M129.10,49.30 H133.30 M129.10,50.10 H133.30" stroke="#ff5a1e" stroke-width="0.58" fill="none"/>
<circle cx="131.20" cy="49.70" r="3.1" fill="none" stroke="#ff5a1e" stroke-width="0.6"/>
<path d="M140.50,58.70 V59.50 M138.40,58.70 H142.60 M138.40,59.50 H142.60" stroke="#ff5a1e" stroke-width="0.58" fill="none"/>
<circle cx="140.50" cy="59.10" r="3.1" fill="none" stroke="#ff5a1e" stroke-width="0.6"/>
<path d="M149.00,67.00 V67.80 M146.90,67.00 H151.10 M146.90,67.80 H151.10" stroke="#ff5a1e" stroke-width="0.58" fill="none"/>
<circle cx="149.00" cy="67.40" r="3.1" fill="none" stroke="#ff5a1e" stroke-width="0.6"/>
<path d="M158.20,73.90 V74.70 M156.10,73.90 H160.30 M156.10,74.70 H160.30" stroke="#ff5a1e" stroke-width="0.58" fill="none"/>
<circle cx="158.20" cy="74.30" r="3.1" fill="none" stroke="#ff5a1e" stroke-width="0.6"/>
<path d="M166.60,80.20 V81.00 M164.50,80.20 H168.70 M164.50,81.00 H168.70" stroke="#ff5a1e" stroke-width="0.58" fill="none"/>
<circle cx="166.60" cy="80.60" r="3.1" fill="none" stroke="#ff5a1e" stroke-width="0.6"/>
<path d="M175.90,85.60 V86.40 M173.80,85.60 H178.00 M173.80,86.40 H178.00" stroke="#ff5a1e" stroke-width="0.58" fill="none"/>
<circle cx="175.90" cy="86.00" r="3.1" fill="none" stroke="#ff5a1e" stroke-width="0.6"/>
<path d="M184.60,90.00 V91.00 M182.50,90.00 H186.70 M182.50,91.00 H186.70" stroke="#ff5a1e" stroke-width="0.58" fill="none"/>
<circle cx="184.60" cy="90.50" r="3.1" fill="none" stroke="#ff5a1e" stroke-width="0.6"/>
<path d="M193.50,94.50 V95.50 M191.40,94.50 H195.60 M191.40,95.50 H195.60" stroke="#ff5a1e" stroke-width="0.58" fill="none"/>
<circle cx="193.50" cy="95.00" r="3.1" fill="none" stroke="#ff5a1e" stroke-width="0.6"/>
<path d="M202.60,98.00 V99.20 M200.50,98.00 H204.70 M200.50,99.20 H204.70" stroke="#ff5a1e" stroke-width="0.58" fill="none"/>
<circle cx="202.60" cy="98.60" r="3.1" fill="none" stroke="#ff5a1e" stroke-width="0.6"/>
<path d="M211.40,100.20 V101.80 M209.30,100.20 H213.50 M209.30,101.80 H213.50" stroke="#ff5a1e" stroke-width="0.58" fill="none"/>
<circle cx="211.40" cy="101.00" r="3.1" fill="none" stroke="#ff5a1e" stroke-width="0.6"/>
<path d="M220.30,101.50 V103.50 M218.20,101.50 H222.40 M218.20,103.50 H222.40" stroke="#ff5a1e" stroke-width="0.58" fill="none"/>
<circle cx="220.30" cy="102.50" r="3.1" fill="none" stroke="#ff5a1e" stroke-width="0.6"/>
<path d="M229.40,106.30 V108.90 M227.30,106.30 H231.50 M227.30,108.90 H231.50" stroke="#ff5a1e" stroke-width="0.58" fill="none"/>
<circle cx="229.40" cy="107.60" r="3.1" fill="none" stroke="#ff5a1e" stroke-width="0.6"/>
<path d="M238.20,106.60 V109.80 M236.10,106.60 H240.30 M236.10,109.80 H240.30" stroke="#ff5a1e" stroke-width="0.58" fill="none"/>
<circle cx="238.20" cy="108.20" r="3.1" fill="none" stroke="#ff5a1e" stroke-width="0.6"/>
<path d="M246.90,105.60 V109.60 M244.80,105.60 H249.00 M244.80,109.60 H249.00" stroke="#ff5a1e" stroke-width="0.58" fill="none"/>
<circle cx="246.90" cy="107.60" r="3.1" fill="none" stroke="#ff5a1e" stroke-width="0.6"/>
<path d="M256.00,110.70 V116.70 M253.90,110.70 H258.10 M253.90,116.70 H258.10" stroke="#ff5a1e" stroke-width="0.58" fill="none"/>
<circle cx="256.00" cy="113.70" r="3.1" fill="none" stroke="#ff5a1e" stroke-width="0.6"/>
<path d="M264.50,108.10 V116.10 M262.40,108.10 H266.60 M262.40,116.10 H266.60" stroke="#ff5a1e" stroke-width="0.58" fill="none"/>
<circle cx="264.50" cy="112.10" r="3.1" fill="none" stroke="#ff5a1e" stroke-width="0.6"/>
<path d="M274.00,115.30 V129.30 M271.90,115.30 H276.10 M271.90,129.30 H276.10" stroke="#ff5a1e" stroke-width="0.58" fill="none"/>
<circle cx="274.00" cy="122.30" r="3.1" fill="none" stroke="#ff5a1e" stroke-width="0.6"/>
<path d="M282.70,92.40 V111.60 M280.60,92.40 H284.80 M280.60,111.60 H284.80" stroke="#ff5a1e" stroke-width="0.58" fill="none"/>
<circle cx="282.70" cy="102.00" r="3.1" fill="none" stroke="#ff5a1e" stroke-width="0.6"/>
<path d="M291.80,111.60 V138.40 M289.70,111.60 H293.90 M289.70,138.40 H293.90" stroke="#ff5a1e" stroke-width="0.58" fill="none"/>
<circle cx="291.80" cy="125.00" r="3.1" fill="none" stroke="#ff5a1e" stroke-width="0.6"/>
<path d="M300.60,112.20 V148.20 M298.50,112.20 H302.70 M298.50,148.20 H302.70" stroke="#ff5a1e" stroke-width="0.58" fill="none"/>
<circle cx="300.60" cy="130.20" r="3.1" fill="none" stroke="#ff5a1e" stroke-width="0.6"/>
<path d="M309.50,58.20 V131.20 M307.40,58.20 H311.60 M307.40,131.20 H311.60" stroke="#ff5a1e" stroke-width="0.58" fill="none"/>
<circle cx="309.50" cy="94.70" r="3.1" fill="none" stroke="#ff5a1e" stroke-width="0.6"/>
<path d="M318.50,74.90 V156.10 M316.40,74.90 H320.60 M316.40,156.10 H320.60" stroke="#ff5a1e" stroke-width="0.58" fill="none"/>
<circle cx="318.50" cy="115.50" r="3.1" fill="none" stroke="#ff5a1e" stroke-width="0.6"/>
<path d="M327.20,23.40 V143.40 M325.10,23.40 H329.30 M325.10,143.40 H329.30" stroke="#ff5a1e" stroke-width="0.58" fill="none"/>
<circle cx="327.20" cy="83.40" r="3.1" fill="none" stroke="#ff5a1e" stroke-width="0.6"/>
<path d="M336.30,74.40 V252.40 M334.20,74.40 H338.40 M334.20,252.40 H338.40" stroke="#ff5a1e" stroke-width="0.58" fill="none"/>
<circle cx="336.30" cy="163.40" r="3.1" fill="none" stroke="#ff5a1e" stroke-width="0.6"/>
<path d="M345.00,-161.00 V239.00 M342.90,-161.00 H347.10 M342.90,239.00 H347.10" stroke="#ff5a1e" stroke-width="0.58" fill="none"/>
<circle cx="345.00" cy="39.00" r="3.1" fill="none" stroke="#ff5a1e" stroke-width="0.6"/>
</g>
<g clip-path="url(#clip1)">
<path d="M167.00,127.10 L169.55,127.10 L172.09,127.10 L174.64,127.10 L177.18,137.38 L179.73,148.38 L182.27,158.50 L184.82,167.79 L187.37,176.32 L189.91,184.17 L192.46,191.37 L195.00,198.00 L197.55,204.10 L200.09,209.72 L202.64,214.90 L205.19,219.69 L207.73,224.10 L210.28,228.18 L212.82,231.96 L215.37,235.46 L217.91,238.70 L220.46,241.71 L223.01,244.51 L225.55,247.11 L228.10,249.53 L230.64,251.78 L233.19,253.88 L235.73,255.84 L238.28,257.67 L240.83,259.37 L243.37,260.97 L245.92,262.47 L248.46,263.87 L251.01,265.18 L253.55,266.41 L256.10,267.57 L258.65,268.66 L261.19,269.68 L263.74,270.64 L266.28,271.54 L268.83,272.39 L271.37,273.19 L273.92,273.94 L276.47,274.66 L279.01,275.33 L281.56,275.96 L284.10,276.56 L286.65,277.13 L289.19,277.66 L291.74,278.17 L294.29,278.65 L296.83,279.11 L299.38,279.54 L301.92,279.94 L304.47,280.33 L307.01,280.70 L309.56,281.04 L312.11,281.37 L314.65,281.69 L317.20,281.99 L319.74,282.27 L322.29,282.54 L324.83,282.79 L327.38,283.04 L329.93,283.27 L332.47,283.49 L335.02,283.70 L337.56,283.90 L340.11,284.09 L342.65,284.27 L345.20,284.44 L347.75,284.61 L350.29,284.76 L352.84,284.91 L355.38,285.05 L357.93,285.19 L360.47,285.32 L363.02,285.44 L365.57,285.56 L368.11,285.68 L370.66,285.78 L373.20,285.89 L375.75,285.98 L378.29,286.08 L380.84,286.17 L383.39,286.25 L385.93,286.34 L388.48,286.41 L391.02,286.49 L393.57,286.56 L396.11,286.63 L398.66,286.69 L401.21,286.76 L403.75,286.82 L406.30,286.87 L408.84,286.93 L411.39,286.98 L413.93,287.03 L416.48,287.08 L419.03,287.12 L421.57,287.17 L424.12,287.21 L426.66,287.25 L429.21,287.29 L431.75,287.32 L434.30,287.36 L436.85,287.39 L439.39,287.42 L441.94,287.46 L444.48,287.48 L447.03,287.51 L449.57,287.54 L452.12,287.56 L454.67,287.59 L457.21,287.61 L459.76,287.63 L462.30,287.66 L464.85,287.68 L467.39,287.69 L469.94,287.71 L472.49,287.73 L475.03,287.75 L477.58,287.76 L480.12,287.78 L482.67,287.79 L485.21,287.81 L487.76,287.82 L490.31,287.83 L492.85,287.84 L495.40,287.85 L497.94,287.87 L500.49,287.88 L503.03,287.88 L505.58,287.89 L508.13,287.90 L510.67,287.91 L513.22,287.92 L515.76,287.93 L518.31,287.93 L520.85,287.94 L523.40,287.94 L523.40,289.34 L520.85,289.36 L518.31,289.38 L515.76,289.39 L513.22,289.41 L510.67,289.43 L508.13,289.45 L505.58,289.47 L503.03,289.49 L500.49,289.51 L497.94,289.53 L495.40,289.55 L492.85,289.57 L490.31,289.59 L487.76,289.61 L485.21,289.63 L482.67,289.65 L480.12,289.67 L477.58,289.69 L475.03,289.72 L472.49,289.74 L469.94,289.76 L467.39,289.78 L464.85,289.80 L462.30,289.83 L459.76,289.85 L457.21,289.87 L454.67,289.89 L452.12,289.92 L449.57,289.94 L447.03,289.96 L444.48,289.99 L441.94,290.01 L439.39,290.04 L436.85,290.06 L434.30,290.08 L431.75,290.11 L429.21,290.13 L426.66,290.16 L424.12,290.18 L421.57,290.21 L419.03,290.23 L416.48,290.26 L413.93,290.28 L411.39,290.31 L408.84,290.33 L406.30,290.36 L403.75,290.38 L401.21,290.41 L398.66,290.43 L396.11,290.46 L393.57,290.48 L391.02,290.51 L388.48,290.53 L385.93,290.56 L383.39,290.58 L380.84,290.60 L378.29,290.63 L375.75,290.65 L373.20,290.68 L370.66,290.70 L368.11,290.72 L365.57,290.74 L363.02,290.77 L360.47,290.79 L357.93,290.81 L355.38,290.83 L352.84,290.85 L350.29,290.86 L347.75,290.88 L345.20,290.90 L342.65,290.91 L340.11,290.93 L337.56,290.94 L335.02,290.95 L332.47,290.96 L329.93,290.97 L327.38,290.98 L324.83,290.98 L322.29,290.99 L319.74,290.99 L317.20,290.99 L314.65,290.98 L312.11,290.97 L309.56,290.96 L307.01,290.95 L304.47,290.93 L301.92,290.91 L299.38,290.89 L296.83,290.86 L294.29,290.82 L291.74,290.78 L289.19,290.74 L286.65,290.69 L284.10,290.63 L281.56,290.56 L279.01,290.49 L276.47,290.41 L273.92,290.32 L271.37,290.22 L268.83,290.11 L266.28,289.99 L263.74,289.85 L261.19,289.70 L258.65,289.54 L256.10,289.36 L253.55,289.17 L251.01,288.96 L248.46,288.72 L245.92,288.47 L243.37,288.19 L240.83,287.89 L238.28,287.56 L235.73,287.20 L233.19,286.81 L230.64,286.39 L228.10,285.92 L225.55,285.42 L223.01,284.87 L220.46,284.28 L217.91,283.63 L215.37,282.93 L212.82,282.17 L210.28,281.35 L207.73,280.45 L205.19,279.49 L202.64,278.44 L200.09,277.32 L197.55,276.11 L195.00,274.80 L192.46,273.41 L189.91,271.92 L187.37,270.35 L184.82,268.69 L182.27,266.96 L179.73,265.19 L177.18,263.40 L174.64,261.66 L172.09,260.04 L169.55,258.67 L167.00,257.74 Z" fill="#ffa2a2" stroke="none"/>
<path d="M167.00,127.10 L169.55,127.10 L172.09,127.10 L174.64,127.10 L177.18,137.38 L179.73,148.38 L182.27,158.50 L184.82,167.79 L187.37,176.32 L189.91,184.17 L192.46,191.37 L195.00,198.00 L197.55,204.10 L200.09,209.72 L202.64,214.90 L205.19,219.69 L207.73,224.10 L210.28,228.18 L212.82,231.96 L215.37,235.46 L217.91,238.70 L220.46,241.71 L223.01,244.51 L225.55,247.11 L228.10,249.53 L230.64,251.78 L233.19,253.88 L235.73,255.84 L238.28,257.67 L240.83,259.37 L243.37,260.97 L245.92,262.47 L248.46,263.87 L251.01,265.18 L253.55,266.41 L256.10,267.57 L258.65,268.66 L261.19,269.68 L263.74,270.64 L266.28,271.54 L268.83,272.39 L271.37,273.19 L273.92,273.94 L276.47,274.66 L279.01,275.33 L281.56,275.96 L284.10,276.56 L286.65,277.13 L289.19,277.66 L291.74,278.17 L294.29,278.65 L296.83,279.11 L299.38,279.54 L301.92,279.94 L304.47,280.33 L307.01,280.70 L309.56,281.04 L312.11,281.37 L314.65,281.69 L317.20,281.99 L319.74,282.27 L322.29,282.54 L324.83,282.79 L327.38,283.04 L329.93,283.27 L332.47,283.49 L335.02,283.70 L337.56,283.90 L340.11,284.09 L342.65,284.27 L345.20,284.44 L347.75,284.61 L350.29,284.76 L352.84,284.91 L355.38,285.05 L357.93,285.19 L360.47,285.32 L363.02,285.44 L365.57,285.56 L368.11,285.68 L370.66,285.78 L373.20,285.89 L375.75,285.98 L378.29,286.08 L380.84,286.17 L383.39,286.25 L385.93,286.34 L388.48,286.41 L391.02,286.49 L393.57,286.56 L396.11,286.63 L398.66,286.69 L401.21,286.76 L403.75,286.82 L406.30,286.87 L408.84,286.93 L411.39,286.98 L413.93,287.03 L416.48,287.08 L419.03,287.12 L421.57,287.17 L424.12,287.21 L426.66,287.25 L429.21,287.29 L431.75,287.32 L434.30,287.36 L436.85,287.39 L439.39,287.42 L441.94,287.46 L444.48,287.48 L447.03,287.51 L449.57,287.54 L452.12,287.56 L454.67,287.59 L457.21,287.61 L459.76,287.63 L462.30,287.66 L464.85,287.68 L467.39,287.69 L469.94,287.71 L472.49,287.73 L475.03,287.75 L477.58,287.76 L480.12,287.78 L482.67,287.79 L485.21,287.81 L487.76,287.82 L490.31,287.83 L492.85,287.84 L495.40,287.85 L497.94,287.87 L500.49,287.88 L503.03,287.88 L505.58,287.89 L508.13,287.90 L510.67,287.91 L513.22,287.92 L515.76,287.93 L518.31,287.93 L520.85,287.94 L523.40,287.94 L523.40,289.34 L520.85,289.36 L518.31,289.38 L515.76,289.39 L513.22,289.41 L510.67,289.43 L508.13,289.45 L505.58,289.47 L503.03,289.49 L500.49,289.51 L497.94,289.53 L495.40,289.55 L492.85,289.57 L490.31,289.59 L487.76,289.61 L485.21,289.63 L482.67,289.65 L480.12,289.67 L477.58,289.69 L475.03,289.72 L472.49,289.74 L469.94,289.76 L467.39,289.78 L464.85,289.80 L462.30,289.83 L459.76,289.85 L457.21,289.87 L454.67,289.89 L452.12,289.92 L449.57,289.94 L447.03,289.96 L444.48,289.99 L441.94,290.01 L439.39,290.04 L436.85,290.06 L434.30,290.08 L431.75,290.11 L429.21,290.13 L426.66,290.16 L424.12,290.18 L421.57,290.21 L419.03,290.23 L416.48,290.26 L413.93,290.28 L411.39,290.31 L408.84,290.33 L406.30,290.36 L403.75,290.38 L401.21,290.41 L398.66,290.43 L396.11,290.46 L393.57,290.48 L391.02,290.51 L388.48,290.53 L385.93,290.56 L383.39,290.58 L380.84,290.60 L378.29,290.63 L375.75,290.65 L373.20,290.68 L370.66,290.70 L368.11,290.72 L365.57,290.74 L363.02,290.77 L360.47,290.79 L357.93,290.81 L355.38,290.83 L352.84,290.85 L350.29,290.86 L347.75,290.88 L345.20,290.90 L342.65,290.91 L340.11,290.93 L337.56,290.94 L335.02,290.95 L332.47,290.96 L329.93,290.97 L327.38,290.98 L324.83,290.98 L322.29,290.99 L319.74,290.99 L317.20,290.99 L314.65,290.98 L312.11,290.97 L309.56,290.96 L307.01,290.95 L304.47,290.93 L301.92,290.91 L299.38,290.89 L296.83,290.86 L294.29,290.82 L291.74,290.78 L289.19,290.74 L286.65,290.69 L284.10,290.63 L281.56,290.56 L279.01,290.49 L276.47,290.41 L273.92,290.32 L271.37,290.22 L268.83,290.11 L266.28,289.99 L263.74,289.85 L261.19,289.70 L258.65,289.54 L256.10,289.36 L253.55,289.17 L251.01,288.96 L248.46,288.72 L245.92,288.47 L243.37,288.19 L240.83,287.89 L238.28,287.56 L235.73,287.20 L233.19,286.81 L230.64,286.39 L228.10,285.92 L225.55,285.42 L223.01,284.87 L220.46,284.28 L217.91,283.63 L215.37,282.93 L212.82,282.17 L210.28,281.35 L207.73,280.45 L205.19,279.49 L202.64,278.44 L200.09,277.32 L197.55,276.11 L195.00,274.80 L192.46,273.41 L189.91,271.92 L187.37,270.35 L184.82,268.69 L182.27,266.96 L179.73,265.19 L177.18,263.40 L174.64,261.66 L172.09,260.04 L169.55,258.67 L167.00,257.74 Z" fill="url(#stripes)" stroke="none"/>
<path d="M167.00,127.10 L169.55,127.10 L172.09,127.10 L174.64,127.10 L177.18,137.38 L179.73,148.38 L182.27,158.50 L184.82,167.79 L187.37,176.32 L189.91,184.17 L192.46,191.37 L195.00,198.00 L197.55,204.10 L200.09,209.72 L202.64,214.90 L205.19,219.69 L207.73,224.10 L210.28,228.18 L212.82,231.96 L215.37,235.46 L217.91,238.70 L220.46,241.71 L223.01,244.51 L225.55,247.11 L228.10,249.53 L230.64,251.78 L233.19,253.88 L235.73,255.84 L238.28,257.67 L240.83,259.37 L243.37,260.97 L245.92,262.47 L248.46,263.87 L251.01,265.18 L253.55,266.41 L256.10,267.57 L258.65,268.66 L261.19,269.68 L263.74,270.64 L266.28,271.54 L268.83,272.39 L271.37,273.19 L273.92,273.94 L276.47,274.66 L279.01,275.33 L281.56,275.96 L284.10,276.56 L286.65,277.13 L289.19,277.66 L291.74,278.17 L294.29,278.65 L296.83,279.11 L299.38,279.54 L301.92,279.94 L304.47,280.33 L307.01,280.70 L309.56,281.04 L312.11,281.37 L314.65,281.69 L317.20,281.99 L319.74,282.27 L322.29,282.54 L324.83,282.79 L327.38,283.04 L329.93,283.27 L332.47,283.49 L335.02,283.70 L337.56,283.90 L340.11,284.09 L342.65,284.27 L345.20,284.44 L347.75,284.61 L350.29,284.76 L352.84,284.91 L355.38,285.05 L357.93,285.19 L360.47,285.32 L363.02,285.44 L365.57,285.56 L368.11,285.68 L370.66,285.78 L373.20,285.89 L375.75,285.98 L378.29,286.08 L380.84,286.17 L383.39,286.25 L385.93,286.34 L388.48,286.41 L391.02,286.49 L393.57,286.56 L396.11,286.63 L398.66,286.69 L401.21,286.76 L403.75,286.82 L406.30,286.87 L408.84,286.93 L411.39,286.98 L413.93,287.03 L416.48,287.08 L419.03,287.12 L421.57,287.17 L424.12,287.21 L426.66,287.25 L429.21,287.29 L431.75,287.32 L434.30,287.36 L436.85,287.39 L439.39,287.42 L441.94,287.46 L444.48,287.48 L447.03,287.51 L449.57,287.54 L452.12,287.56 L454.67,287.59 L457.21,287.61 L459.76,287.63 L462.30,287.66 L464.85,287.68 L467.39,287.69 L469.94,287.71 L472.49,287.73 L475.03,287.75 L477.58,287.76 L480.12,287.78 L482.67,287.79 L485.21,287.81 L487.76,287.82 L490.31,287.83 L492.85,287.84 L495.40,287.85 L497.94,287.87 L500.49,287.88 L503.03,287.88 L505.58,287.89 L508.13,287.90 L510.67,287.91 L513.22,287.92 L515.76,287.93 L518.31,287.93 L520.85,287.94 L523.40,287.94" fill="none" stroke="#ff3030" stroke-width="0.9" stroke-dasharray="1.2,1.3"/>
<path d="M167.00,257.74 L169.55,258.67 L172.09,260.04 L174.64,261.66 L177.18,263.40 L179.73,265.19 L182.27,266.96 L184.82,268.69 L187.37,270.35 L189.91,271.92 L192.46,273.41 L195.00,274.80 L197.55,276.11 L200.09,277.32 L202.64,278.44 L205.19,279.49 L207.73,280.45 L210.28,281.35 L212.82,282.17 L215.37,282.93 L217.91,283.63 L220.46,284.28 L223.01,284.87 L225.55,285.42 L228.10,285.92 L230.64,286.39 L233.19,286.81 L235.73,287.20 L238.28,287.56 L240.83,287.89 L243.37,288.19 L245.92,288.47 L248.46,288.72 L251.01,288.96 L253.55,289.17 L256.10,289.36 L258.65,289.54 L261.19,289.70 L263.74,289.85 L266.28,289.99 L268.83,290.11 L271.37,290.22 L273.92,290.32 L276.47,290.41 L279.01,290.49 L281.56,290.56 L284.10,290.63 L286.65,290.69 L289.19,290.74 L291.74,290.78 L294.29,290.82 L296.83,290.86 L299.38,290.89 L301.92,290.91 L304.47,290.93 L307.01,290.95 L309.56,290.96 L312.11,290.97 L314.65,290.98 L317.20,290.99 L319.74,290.99 L322.29,290.99 L324.83,290.98 L327.38,290.98 L329.93,290.97 L332.47,290.96 L335.02,290.95 L337.56,290.94 L340.11,290.93 L342.65,290.91 L345.20,290.90 L347.75,290.88 L350.29,290.86 L352.84,290.85 L355.38,290.83 L357.93,290.81 L360.47,290.79 L363.02,290.77 L365.57,290.74 L368.11,290.72 L370.66,290.70 L373.20,290.68 L375.75,290.65 L378.29,290.63 L380.84,290.60 L383.39,290.58 L385.93,290.56 L388.48,290.53 L391.02,290.51 L393.57,290.48 L396.11,290.46 L398.66,290.43 L401.21,290.41 L403.75,290.38 L406.30,290.36 L408.84,290.33 L411.39,290.31 L413.93,290.28 L416.48,290.26 L419.03,290.23 L421.57,290.21 L424.12,290.18 L426.66,290.16 L429.21,290.13 L431.75,290.11 L434.30,290.08 L436.85,290.06 L439.39,290.04 L441.94,290.01 L444.48,289.99 L447.03,289.96 L449.57,289.94 L452.12,289.92 L454.67,289.89 L457.21,289.87 L459.76,289.85 L462.30,289.83 L464.85,289.80 L467.39,289.78 L469.94,289.76 L472.49,289.74 L475.03,289.72 L477.58,289.69 L480.12,289.67 L482.67,289.65 L485.21,289.63 L487.76,289.61 L490.31,289.59 L492.85,289.57 L495.40,289.55 L497.94,289.53 L500.49,289.51 L503.03,289.49 L505.58,289.47 L508.13,289.45 L510.67,289.43 L513.22,289.41 L515.76,289.39 L518.31,289.38 L520.85,289.36 L523.40,289.34" fill="none" stroke="#ff3030" stroke-width="0.9" stroke-dasharray="1.2,1.3"/>
<path d="M167.00,170.56 L169.55,178.56 L172.09,186.25 L174.64,193.54 L177.18,200.39 L179.73,206.78 L182.27,212.73 L184.82,218.24 L187.37,223.33 L189.91,228.04 L192.46,232.39 L195.00,236.40 L197.55,240.10 L200.09,243.52 L202.64,246.67 L205.19,249.59 L207.73,252.28 L210.28,254.76 L212.82,257.07 L215.37,259.19 L217.91,261.17 L220.46,262.99 L223.01,264.69 L225.55,266.26 L228.10,267.72 L230.64,269.08 L233.19,270.34 L235.73,271.52 L238.28,272.61 L240.83,273.63 L243.37,274.58 L245.92,275.47 L248.46,276.30 L251.01,277.07 L253.55,277.79 L256.10,278.47 L258.65,279.10 L261.19,279.69 L263.74,280.24 L266.28,280.76 L268.83,281.25 L271.37,281.70 L273.92,282.13 L276.47,282.53 L279.01,282.91 L281.56,283.26 L284.10,283.60 L286.65,283.91 L289.19,284.20 L291.74,284.48 L294.29,284.74 L296.83,284.98 L299.38,285.21 L301.92,285.43 L304.47,285.63 L307.01,285.82 L309.56,286.00 L312.11,286.17 L314.65,286.33 L317.20,286.49 L319.74,286.63 L322.29,286.76 L324.83,286.89 L327.38,287.01 L329.93,287.12 L332.47,287.23 L335.02,287.33 L337.56,287.42 L340.11,287.51 L342.65,287.59 L345.20,287.67 L347.75,287.74 L350.29,287.81 L352.84,287.88 L355.38,287.94 L357.93,288.00 L360.47,288.05 L363.02,288.10 L365.57,288.15 L368.11,288.20 L370.66,288.24 L373.20,288.28 L375.75,288.32 L378.29,288.35 L380.84,288.39 L383.39,288.42 L385.93,288.45 L388.48,288.47 L391.02,288.50 L393.57,288.52 L396.11,288.54 L398.66,288.56 L401.21,288.58 L403.75,288.60 L406.30,288.61 L408.84,288.63 L411.39,288.64 L413.93,288.66 L416.48,288.67 L419.03,288.68 L421.57,288.69 L424.12,288.70 L426.66,288.70 L429.21,288.71 L431.75,288.72 L434.30,288.72 L436.85,288.73 L439.39,288.73 L441.94,288.73 L444.48,288.74 L447.03,288.74 L449.57,288.74 L452.12,288.74 L454.67,288.74 L457.21,288.74 L459.76,288.74 L462.30,288.74 L464.85,288.74 L467.39,288.74 L469.94,288.74 L472.49,288.73 L475.03,288.73 L477.58,288.73 L480.12,288.73 L482.67,288.72 L485.21,288.72 L487.76,288.71 L490.31,288.71 L492.85,288.71 L495.40,288.70 L497.94,288.70 L500.49,288.69 L503.03,288.69 L505.58,288.68 L508.13,288.68 L510.67,288.67 L513.22,288.67 L515.76,288.66 L518.31,288.65 L520.85,288.65 L523.40,288.64" fill="none" stroke="#ff2020" stroke-width="0.9"/>
<path d="M332.47,287.06 H523.4" stroke="#2020ff" stroke-width="1.2" stroke-dasharray="1.6,1.9" fill="none"/>
<path d="M192.46,363.83 L194.82,359.76 L197.18,356.02 L199.55,352.58 L201.91,349.41 L204.28,346.48 L206.64,343.76 L209.00,341.24 L211.37,338.89 L213.73,336.69 L216.10,334.65 L218.46,332.73 L220.82,330.93 L223.19,329.24 L225.55,327.65 L227.92,326.16 L230.28,324.74 L232.64,323.41 L235.01,322.15 L237.37,320.96 L239.73,319.83 L242.10,318.75 L244.46,317.73 L246.83,316.76 L249.19,315.84 L251.55,314.96 L253.92,314.13 L256.28,313.33 L258.65,312.56 L261.01,311.84 L263.37,311.14 L265.74,310.47 L268.10,309.83 L270.47,309.22 L272.83,308.63 L275.19,308.07 L277.56,307.53 L279.92,307.01 L282.28,306.51 L284.65,306.02 L287.01,305.56 L289.38,305.12 L291.74,304.69 L294.10,304.27 L296.47,303.87 L298.83,303.49 L301.20,303.12 L303.56,302.76 L305.92,302.41 L308.29,302.07 L310.65,301.75 L313.01,301.44 L315.38,301.13 L317.74,300.84 L320.11,300.56 L322.47,300.28 L324.83,300.01 L327.20,299.75 L329.56,299.50 L331.93,299.26 L334.29,299.02 L336.65,298.79 L339.02,298.57 L341.38,298.35 L343.75,298.14 L346.11,297.94 L348.47,297.74 L350.84,297.55 L353.20,297.36 L355.56,297.18 L357.93,297.00 L360.29,296.82 L362.66,296.66 L365.02,296.49 L367.38,296.33 L369.75,296.18 L372.11,296.02 L374.48,295.87 L376.84,295.73 L379.20,295.59 L381.57,295.45 L383.93,295.32 L386.30,295.19 L388.66,295.06 L391.02,294.93 L393.39,294.81 L395.75,294.69 L398.11,294.58 L400.48,294.46 L402.84,294.35 L405.21,294.24 L407.57,294.14 L409.93,294.03 L412.30,293.93 L414.66,293.83 L417.03,293.74 L419.39,293.64 L421.75,293.55 L424.12,293.46 L426.48,293.37 L428.84,293.28 L431.21,293.20 L433.57,293.11 L435.94,293.03 L438.30,292.95 L440.66,292.87 L443.03,292.79 L445.39,292.72 L447.76,292.64 L450.12,292.57 L452.48,292.50 L454.85,292.43 L457.21,292.36 L459.58,292.30 L461.94,292.23 L464.30,292.16 L466.67,292.10 L469.03,292.04 L471.39,291.98 L473.76,291.92 L476.12,291.86 L478.49,291.80 L480.85,291.75 L483.21,291.69 L485.58,291.63 L487.94,291.58 L490.31,291.53 L492.67,291.48 L495.03,291.43 L497.40,291.38 L499.76,291.33 L502.13,291.28 L504.49,291.23 L506.85,291.18 L509.22,291.14 L511.58,291.09 L513.94,291.05 L516.31,291.00 L518.67,290.96 L521.04,290.92 L523.40,290.88" fill="none" stroke="#222" stroke-width="0.72"/>
</g>
<g clip-path="url(#clip1)">
<path d="M115.80,208.10 V208.90 M113.70,208.10 H117.90 M113.70,208.90 H117.90" stroke="#1010ff" stroke-width="0.58" fill="none"/>
<path d="M112.70,206.95 L118.90,206.95 L115.80,211.97 Z" fill="none" stroke="#1010ff" stroke-width="0.6"/>
<path d="M134.70,244.80 V245.60 M132.60,244.80 H136.80 M132.60,245.60 H136.80" stroke="#1010ff" stroke-width="0.58" fill="none"/>
<path d="M131.60,243.65 L137.80,243.65 L134.70,248.67 Z" fill="none" stroke="#1010ff" stroke-width="0.6"/>
<path d="M153.60,263.10 V263.90 M151.50,263.10 H155.70 M151.50,263.90 H155.70" stroke="#1010ff" stroke-width="0.58" fill="none"/>
<path d="M150.50,261.95 L156.70,261.95 L153.60,266.97 Z" fill="none" stroke="#1010ff" stroke-width="0.6"/>
<path d="M172.70,274.30 V275.10 M170.60,274.30 H174.80 M170.60,275.10 H174.80" stroke="#1010ff" stroke-width="0.58" fill="none"/>
<path d="M169.60,273.15 L175.80,273.15 L172.70,278.17 Z" fill="none" stroke="#1010ff" stroke-width="0.6"/>
<path d="M191.50,281.40 V282.20 M189.40,281.40 H193.60 M189.40,282.20 H193.60" stroke="#1010ff" stroke-width="0.58" fill="none"/>
<path d="M188.40,280.25 L194.60,280.25 L191.50,285.27 Z" fill="none" stroke="#1010ff" stroke-width="0.6"/>
<path d="M210.60,286.50 V287.30 M208.50,286.50 H212.70 M208.50,287.30 H212.70" stroke="#1010ff" stroke-width="0.58" fill="none"/>
<path d="M207.50,285.35 L213.70,285.35 L210.60,290.37 Z" fill="none" stroke="#1010ff" stroke-width="0.6"/>
<path d="M229.30,290.10 V290.90 M227.20,290.10 H231.40 M227.20,290.90 H231.40" stroke="#1010ff" stroke-width="0.58" fill="none"/>
<path d="M226.20,288.95 L232.40,288.95 L229.30,293.97 Z" fill="none" stroke="#1010ff" stroke-width="0.6"/>
<path d="M248.60,292.50 V293.30 M246.50,292.50 H250.70 M246.50,293.30 H250.70" stroke="#1010ff" stroke-width="0.58" fill="none"/>
<path d="M245.50,291.35 L251.70,291.35 L248.60,296.37 Z" fill="none" stroke="#1010ff" stroke-width="0.6"/>
<path d="M267.60,293.60 V294.60 M265.50,293.60 H269.70 M265.50,294.60 H269.70" stroke="#1010ff" stroke-width="0.58" fill="none"/>
<path d="M264.50,292.55 L270.70,292.55 L267.60,297.57 Z" fill="none" stroke="#1010ff" stroke-width="0.6"/>
<path d="M286.50,294.00 V295.20 M284.40,294.00 H288.60 M284.40,295.20 H288.60" stroke="#1010ff" stroke-width="0.58" fill="none"/>
<path d="M283.40,293.05 L289.60,293.05 L286.50,298.07 Z" fill="none" stroke="#1010ff" stroke-width="0.6"/>
<path d="M305.80,294.80 V296.40 M303.70,294.80 H307.90 M303.70,296.40 H307.90" stroke="#1010ff" stroke-width="0.58" fill="none"/>
<path d="M302.70,294.05 L308.90,294.05 L305.80,299.07 Z" fill="none" stroke="#1010ff" stroke-width="0.6"/>
<path d="M324.80,295.20 V297.20 M322.70,295.20 H326.90 M322.70,297.20 H326.90" stroke="#1010ff" stroke-width="0.58" fill="none"/>
<path d="M321.70,294.65 L327.90,294.65 L324.80,299.67 Z" fill="none" stroke="#1010ff" stroke-width="0.6"/>
<path d="M343.70,294.70 V297.70 M341.60,294.70 H345.80 M341.60,297.70 H345.80" stroke="#1010ff" stroke-width="0.58" fill="none"/>
<path d="M340.60,294.65 L346.80,294.65 L343.70,299.67 Z" fill="none" stroke="#1010ff" stroke-width="0.6"/>
<path d="M362.70,295.00 V300.00 M360.60,295.00 H364.80 M360.60,300.00 H364.80" stroke="#1010ff" stroke-width="0.58" fill="none"/>
<path d="M359.60,295.95 L365.80,295.95 L362.70,300.97 Z" fill="none" stroke="#1010ff" stroke-width="0.6"/>
<path d="M381.40,292.10 V299.50 M379.30,292.10 H383.50 M379.30,299.50 H383.50" stroke="#1010ff" stroke-width="0.58" fill="none"/>
<path d="M378.30,294.25 L384.50,294.25 L381.40,299.27 Z" fill="none" stroke="#1010ff" stroke-width="0.6"/>
<path d="M400.90,291.40 V302.60 M398.80,291.40 H403.00 M398.80,302.60 H403.00" stroke="#1010ff" stroke-width="0.58" fill="none"/>
<path d="M397.80,295.45 L404.00,295.45 L400.90,300.47 Z" fill="none" stroke="#1010ff" stroke-width="0.6"/>
<path d="M419.60,291.50 V308.30 M417.50,291.50 H421.70 M417.50,308.30 H421.70" stroke="#1010ff" stroke-width="0.58" fill="none"/>
<path d="M416.50,298.35 L422.70,298.35 L419.60,303.37 Z" fill="none" stroke="#1010ff" stroke-width="0.6"/>
<path d="M439.00,280.40 V302.40 M436.90,280.40 H441.10 M436.90,302.40 H441.10" stroke="#1010ff" stroke-width="0.58" fill="none"/>
<path d="M435.90,289.85 L442.10,289.85 L439.00,294.87 Z" fill="none" stroke="#1010ff" stroke-width="0.6"/>
<path d="M457.30,293.20 V329.00 M455.20,293.20 H459.40 M455.20,329.00 H459.40" stroke="#1010ff" stroke-width="0.58" fill="none"/>
<path d="M454.20,309.55 L460.40,309.55 L457.30,314.57 Z" fill="none" stroke="#1010ff" stroke-width="0.6"/>
<path d="M476.50,282.10 V344.70 M474.40,282.10 H478.60 M474.40,344.70 H478.60" stroke="#1010ff" stroke-width="0.58" fill="none"/>
<path d="M473.40,311.85 L479.60,311.85 L476.50,316.87 Z" fill="none" stroke="#1010ff" stroke-width="0.6"/>
<path d="M496.40,252.00 V378.60 M494.30,252.00 H498.50 M494.30,378.60 H498.50" stroke="#1010ff" stroke-width="0.58" fill="none"/>
<path d="M493.30,313.75 L499.50,313.75 L496.40,318.77 Z" fill="none" stroke="#1010ff" stroke-width="0.6"/>
<path d="M107.60,189.40 V190.20 M105.50,189.40 H109.70 M105.50,190.20 H109.70" stroke="#ff22ff" stroke-width="0.58" fill="none"/>
<rect x="104.50" y="186.70" width="6.2" height="6.2" fill="none" stroke="#ff22ff" stroke-width="0.6"/>
<path d="M122.20,220.80 V221.60 M120.10,220.80 H124.30 M120.10,221.60 H124.30" stroke="#ff22ff" stroke-width="0.58" fill="none"/>
<rect x="119.10" y="218.10" width="6.2" height="6.2" fill="none" stroke="#ff22ff" stroke-width="0.6"/>
<path d="M137.00,239.90 V240.70 M134.90,239.90 H139.10 M134.90,240.70 H139.10" stroke="#ff22ff" stroke-width="0.58" fill="none"/>
<rect x="133.90" y="237.20" width="6.2" height="6.2" fill="none" stroke="#ff22ff" stroke-width="0.6"/>
<path d="M151.90,253.60 V254.40 M149.80,253.60 H154.00 M149.80,254.40 H154.00" stroke="#ff22ff" stroke-width="0.58" fill="none"/>
<rect x="148.80" y="250.90" width="6.2" height="6.2" fill="none" stroke="#ff22ff" stroke-width="0.6"/>
<path d="M166.60,264.10 V264.90 M164.50,264.10 H168.70 M164.50,264.90 H168.70" stroke="#ff22ff" stroke-width="0.58" fill="none"/>
<rect x="163.50" y="261.40" width="6.2" height="6.2" fill="none" stroke="#ff22ff" stroke-width="0.6"/>
<path d="M181.80,272.30 V273.10 M179.70,272.30 H183.90 M179.70,273.10 H183.90" stroke="#ff22ff" stroke-width="0.58" fill="none"/>
<rect x="178.70" y="269.60" width="6.2" height="6.2" fill="none" stroke="#ff22ff" stroke-width="0.6"/>
<path d="M196.40,279.00 V279.80 M194.30,279.00 H198.50 M194.30,279.80 H198.50" stroke="#ff22ff" stroke-width="0.58" fill="none"/>
<rect x="193.30" y="276.30" width="6.2" height="6.2" fill="none" stroke="#ff22ff" stroke-width="0.6"/>
<path d="M211.60,281.80 V282.60 M209.50,281.80 H213.70 M209.50,282.60 H213.70" stroke="#ff22ff" stroke-width="0.58" fill="none"/>
<rect x="208.50" y="279.10" width="6.2" height="6.2" fill="none" stroke="#ff22ff" stroke-width="0.6"/>
<path d="M226.60,285.60 V286.40 M224.50,285.60 H228.70 M224.50,286.40 H228.70" stroke="#ff22ff" stroke-width="0.58" fill="none"/>
<rect x="223.50" y="282.90" width="6.2" height="6.2" fill="none" stroke="#ff22ff" stroke-width="0.6"/>
<path d="M241.30,288.90 V289.70 M239.20,288.90 H243.40 M239.20,289.70 H243.40" stroke="#ff22ff" stroke-width="0.58" fill="none"/>
<rect x="238.20" y="286.20" width="6.2" height="6.2" fill="none" stroke="#ff22ff" stroke-width="0.6"/>
<path d="M256.00,289.90 V290.90 M253.90,289.90 H258.10 M253.90,290.90 H258.10" stroke="#ff22ff" stroke-width="0.58" fill="none"/>
<rect x="252.90" y="287.30" width="6.2" height="6.2" fill="none" stroke="#ff22ff" stroke-width="0.6"/>
<path d="M270.30,291.50 V292.70 M268.20,291.50 H272.40 M268.20,292.70 H272.40" stroke="#ff22ff" stroke-width="0.58" fill="none"/>
<rect x="267.20" y="289.00" width="6.2" height="6.2" fill="none" stroke="#ff22ff" stroke-width="0.6"/>
<path d="M285.50,291.30 V292.90 M283.40,291.30 H287.60 M283.40,292.90 H287.60" stroke="#ff22ff" stroke-width="0.58" fill="none"/>
<rect x="282.40" y="289.00" width="6.2" height="6.2" fill="none" stroke="#ff22ff" stroke-width="0.6"/>
<path d="M300.60,291.60 V293.60 M298.50,291.60 H302.70 M298.50,293.60 H302.70" stroke="#ff22ff" stroke-width="0.58" fill="none"/>
<rect x="297.50" y="289.50" width="6.2" height="6.2" fill="none" stroke="#ff22ff" stroke-width="0.6"/>
<path d="M315.50,291.30 V293.90 M313.40,291.30 H317.60 M313.40,293.90 H317.60" stroke="#ff22ff" stroke-width="0.58" fill="none"/>
<rect x="312.40" y="289.50" width="6.2" height="6.2" fill="none" stroke="#ff22ff" stroke-width="0.6"/>
<path d="M330.40,290.30 V293.90 M328.30,290.30 H332.50 M328.30,293.90 H332.50" stroke="#ff22ff" stroke-width="0.58" fill="none"/>
<rect x="327.30" y="289.00" width="6.2" height="6.2" fill="none" stroke="#ff22ff" stroke-width="0.6"/>
<path d="M344.20,287.10 V292.10 M342.10,287.10 H346.30 M342.10,292.10 H346.30" stroke="#ff22ff" stroke-width="0.58" fill="none"/>
<rect x="341.10" y="286.50" width="6.2" height="6.2" fill="none" stroke="#ff22ff" stroke-width="0.6"/>
<path d="M359.30,289.40 V296.40 M357.20,289.40 H361.40 M357.20,296.40 H361.40" stroke="#ff22ff" stroke-width="0.58" fill="none"/>
<rect x="356.20" y="289.80" width="6.2" height="6.2" fill="none" stroke="#ff22ff" stroke-width="0.6"/>
<path d="M375.00,281.80 V294.20 M372.90,281.80 H377.10 M372.90,294.20 H377.10" stroke="#ff22ff" stroke-width="0.58" fill="none"/>
<rect x="371.90" y="284.90" width="6.2" height="6.2" fill="none" stroke="#ff22ff" stroke-width="0.6"/>
<path d="M389.50,286.60 V302.20 M387.40,286.60 H391.60 M387.40,302.20 H391.60" stroke="#ff22ff" stroke-width="0.58" fill="none"/>
<rect x="386.40" y="291.30" width="6.2" height="6.2" fill="none" stroke="#ff22ff" stroke-width="0.6"/>
<path d="M404.00,279.30 V304.10 M401.90,279.30 H406.10 M401.90,304.10 H406.10" stroke="#ff22ff" stroke-width="0.58" fill="none"/>
<rect x="400.90" y="288.60" width="6.2" height="6.2" fill="none" stroke="#ff22ff" stroke-width="0.6"/>
<path d="M419.20,291.40 V330.80 M417.10,291.40 H421.30 M417.10,330.80 H421.30" stroke="#ff22ff" stroke-width="0.58" fill="none"/>
<rect x="416.10" y="308.00" width="6.2" height="6.2" fill="none" stroke="#ff22ff" stroke-width="0.6"/>
<path d="M434.20,243.40 V318.00 M432.10,243.40 H436.30 M432.10,318.00 H436.30" stroke="#ff22ff" stroke-width="0.58" fill="none"/>
<rect x="431.10" y="277.60" width="6.2" height="6.2" fill="none" stroke="#ff22ff" stroke-width="0.6"/>
<path d="M448.70,235.90 V396.50 M446.60,235.90 H450.80 M446.60,396.50 H450.80" stroke="#ff22ff" stroke-width="0.58" fill="none"/>
<rect x="445.60" y="313.10" width="6.2" height="6.2" fill="none" stroke="#ff22ff" stroke-width="0.6"/>
<path d="M113.30,201.80 V202.60 M111.20,201.80 H115.40 M111.20,202.60 H115.40" stroke="#ff1a1a" stroke-width="0.58" fill="none"/>
<path d="M110.20,202.20 L113.30,198.85 L116.40,202.20 L113.30,205.55 Z" fill="none" stroke="#ff1a1a" stroke-width="0.6"/>
<path d="M125.10,219.60 V220.40 M123.00,219.60 H127.20 M123.00,220.40 H127.20" stroke="#ff1a1a" stroke-width="0.58" fill="none"/>
<path d="M122.00,220.00 L125.10,216.65 L128.20,220.00 L125.10,223.35 Z" fill="none" stroke="#ff1a1a" stroke-width="0.6"/>
<path d="M136.70,234.20 V235.00 M134.60,234.20 H138.80 M134.60,235.00 H138.80" stroke="#ff1a1a" stroke-width="0.58" fill="none"/>
<path d="M133.60,234.60 L136.70,231.25 L139.80,234.60 L136.70,237.95 Z" fill="none" stroke="#ff1a1a" stroke-width="0.6"/>
<path d="M148.30,246.30 V247.10 M146.20,246.30 H150.40 M146.20,247.10 H150.40" stroke="#ff1a1a" stroke-width="0.58" fill="none"/>
<path d="M145.20,246.70 L148.30,243.35 L151.40,246.70 L148.30,250.05 Z" fill="none" stroke="#ff1a1a" stroke-width="0.6"/>
<path d="M160.10,255.90 V256.70 M158.00,255.90 H162.20 M158.00,256.70 H162.20" stroke="#ff1a1a" stroke-width="0.58" fill="none"/>
<path d="M157.00,256.30 L160.10,252.95 L163.20,256.30 L160.10,259.65 Z" fill="none" stroke="#ff1a1a" stroke-width="0.6"/>
<path d="M172.00,264.60 V265.40 M169.90,264.60 H174.10 M169.90,265.40 H174.10" stroke="#ff1a1a" stroke-width="0.58" fill="none"/>
<path d="M168.90,265.00 L172.00,261.65 L175.10,265.00 L172.00,268.35 Z" fill="none" stroke="#ff1a1a" stroke-width="0.6"/>
<path d="M183.40,270.80 V271.60 M181.30,270.80 H185.50 M181.30,271.60 H185.50" stroke="#ff1a1a" stroke-width="0.58" fill="none"/>
<path d="M180.30,271.20 L183.40,267.85 L186.50,271.20 L183.40,274.55 Z" fill="none" stroke="#ff1a1a" stroke-width="0.6"/>
<path d="M195.60,275.90 V276.70 M193.50,275.90 H197.70 M193.50,276.70 H197.70" stroke="#ff1a1a" stroke-width="0.58" fill="none"/>
<path d="M192.50,276.30 L195.60,272.95 L198.70,276.30 L195.60,279.65 Z" fill="none" stroke="#ff1a1a" stroke-width="0.6"/>
<path d="M207.60,279.80 V280.60 M205.50,279.80 H209.70 M205.50,280.60 H209.70" stroke="#ff1a1a" stroke-width="0.58" fill="none"/>
<path d="M204.50,280.20 L207.60,276.85 L210.70,280.20 L207.60,283.55 Z" fill="none" stroke="#ff1a1a" stroke-width="0.6"/>
<path d="M219.30,283.00 V283.80 M217.20,283.00 H221.40 M217.20,283.80 H221.40" stroke="#ff1a1a" stroke-width="0.58" fill="none"/>
<path d="M216.20,283.40 L219.30,280.05 L222.40,283.40 L219.30,286.75 Z" fill="none" stroke="#ff1a1a" stroke-width="0.6"/>
<path d="M231.00,285.50 V286.30 M228.90,285.50 H233.10 M228.90,286.30 H233.10" stroke="#ff1a1a" stroke-width="0.58" fill="none"/>
<path d="M227.90,285.90 L231.00,282.55 L234.10,285.90 L231.00,289.25 Z" fill="none" stroke="#ff1a1a" stroke-width="0.6"/>
<path d="M242.30,287.50 V288.50 M240.20,287.50 H244.40 M240.20,288.50 H244.40" stroke="#ff1a1a" stroke-width="0.58" fill="none"/>
<path d="M239.20,288.00 L242.30,284.65 L245.40,288.00 L242.30,291.35 Z" fill="none" stroke="#ff1a1a" stroke-width="0.6"/>
<path d="M254.50,287.90 V289.10 M252.40,287.90 H256.60 M252.40,289.10 H256.60" stroke="#ff1a1a" stroke-width="0.58" fill="none"/>
<path d="M251.40,288.50 L254.50,285.15 L257.60,288.50 L254.50,291.85 Z" fill="none" stroke="#ff1a1a" stroke-width="0.6"/>
<path d="M266.10,289.10 V290.70 M264.00,289.10 H268.20 M264.00,290.70 H268.20" stroke="#ff1a1a" stroke-width="0.58" fill="none"/>
<path d="M263.00,289.90 L266.10,286.55 L269.20,289.90 L266.10,293.25 Z" fill="none" stroke="#ff1a1a" stroke-width="0.6"/>
<path d="M277.70,291.60 V293.60 M275.60,291.60 H279.80 M275.60,293.60 H279.80" stroke="#ff1a1a" stroke-width="0.58" fill="none"/>
<path d="M274.60,292.60 L277.70,289.25 L280.80,292.60 L277.70,295.95 Z" fill="none" stroke="#ff1a1a" stroke-width="0.6"/>
<path d="M289.50,287.80 V290.80 M287.40,287.80 H291.60 M287.40,290.80 H291.60" stroke="#ff1a1a" stroke-width="0.58" fill="none"/>
<path d="M286.40,289.30 L289.50,285.95 L292.60,289.30 L289.50,292.65 Z" fill="none" stroke="#ff1a1a" stroke-width="0.6"/>
<path d="M301.20,290.70 V296.70 M299.10,290.70 H303.30 M299.10,296.70 H303.30" stroke="#ff1a1a" stroke-width="0.58" fill="none"/>
<path d="M298.10,293.70 L301.20,290.35 L304.30,293.70 L301.20,297.05 Z" fill="none" stroke="#ff1a1a" stroke-width="0.6"/>
<path d="M313.20,288.30 V297.70 M311.10,288.30 H315.30 M311.10,297.70 H315.30" stroke="#ff1a1a" stroke-width="0.58" fill="none"/>
<path d="M310.10,293.00 L313.20,289.65 L316.30,293.00 L313.20,296.35 Z" fill="none" stroke="#ff1a1a" stroke-width="0.6"/>
<path d="M324.80,281.00 V294.20 M322.70,281.00 H326.90 M322.70,294.20 H326.90" stroke="#ff1a1a" stroke-width="0.58" fill="none"/>
<path d="M321.70,287.60 L324.80,284.25 L327.90,287.60 L324.80,290.95 Z" fill="none" stroke="#ff1a1a" stroke-width="0.6"/>
<path d="M336.60,284.90 V300.90 M334.50,284.90 H338.70 M334.50,300.90 H338.70" stroke="#ff1a1a" stroke-width="0.58" fill="none"/>
<path d="M333.50,292.90 L336.60,289.55 L339.70,292.90 L336.60,296.25 Z" fill="none" stroke="#ff1a1a" stroke-width="0.6"/>
<path d="M348.60,282.00 V306.20 M346.50,282.00 H350.70 M346.50,306.20 H350.70" stroke="#ff1a1a" stroke-width="0.58" fill="none"/>
<path d="M345.50,294.10 L348.60,290.75 L351.70,294.10 L348.60,297.45 Z" fill="none" stroke="#ff1a1a" stroke-width="0.6"/>
<path d="M360.50,275.30 V309.90 M358.40,275.30 H362.60 M358.40,309.90 H362.60" stroke="#ff1a1a" stroke-width="0.58" fill="none"/>
<path d="M357.40,292.60 L360.50,289.25 L363.60,292.60 L360.50,295.95 Z" fill="none" stroke="#ff1a1a" stroke-width="0.6"/>
<path d="M372.20,284.30 V331.90 M370.10,284.30 H374.30 M370.10,331.90 H374.30" stroke="#ff1a1a" stroke-width="0.58" fill="none"/>
<path d="M369.10,308.10 L372.20,304.75 L375.30,308.10 L372.20,311.45 Z" fill="none" stroke="#ff1a1a" stroke-width="0.6"/>
<path d="M384.10,251.20 V319.60 M382.00,251.20 H386.20 M382.00,319.60 H386.20" stroke="#ff1a1a" stroke-width="0.58" fill="none"/>
<path d="M381.00,285.40 L384.10,282.05 L387.20,285.40 L384.10,288.75 Z" fill="none" stroke="#ff1a1a" stroke-width="0.6"/>
<path d="M395.40,196.80 V309.20 M393.30,196.80 H397.50 M393.30,309.20 H397.50" stroke="#ff1a1a" stroke-width="0.58" fill="none"/>
<path d="M392.30,253.00 L395.40,249.65 L398.50,253.00 L395.40,256.35 Z" fill="none" stroke="#ff1a1a" stroke-width="0.6"/>
<path d="M407.30,69.80 V469.80 M405.20,69.80 H409.40 M405.20,469.80 H409.40" stroke="#ff1a1a" stroke-width="0.58" fill="none"/>
<path d="M404.20,269.80 L407.30,266.45 L410.40,269.80 L407.30,273.15 Z" fill="none" stroke="#ff1a1a" stroke-width="0.6"/>
</g>
<path d="M154.3,118.6 H198.2 M154.3,116.5 V120.69999999999999 M198.2,116.5 V120.69999999999999" stroke="#1010ff" stroke-width="0.6" fill="none"/>
<path d="M173.30,117.05 L179.50,117.05 L176.40,122.07 Z" fill="none" stroke="#1010ff" stroke-width="0.6"/>
<path d="M154.3,134.0 H198.2 M154.3,131.9 V136.1 M198.2,131.9 V136.1" stroke="#ff22ff" stroke-width="0.6" fill="none"/>
<rect x="173.30" y="130.90" width="6.2" height="6.2" fill="none" stroke="#ff22ff" stroke-width="0.6"/>
<path d="M154.3,149.4 H198.2 M154.3,147.3 V151.5 M198.2,147.3 V151.5" stroke="#ff1a1a" stroke-width="0.6" fill="none"/>
<path d="M173.30,149.40 L176.40,146.05 L179.50,149.40 L176.40,152.75 Z" fill="none" stroke="#ff1a1a" stroke-width="0.6"/>
<path d="M154.3,164.4 H198.2 M154.3,162.3 V166.5 M198.2,162.3 V166.5" stroke="#ff5a1e" stroke-width="0.6" fill="none"/>
<circle cx="176.40" cy="164.40" r="3.1" fill="none" stroke="#ff5a1e" stroke-width="0.6"/>
<path d="M154.3,295.2 H198.2 M154.3,293.09999999999997 V297.3 M198.2,293.09999999999997 V297.3" stroke="#1010ff" stroke-width="0.6" fill="none"/>
<path d="M173.30,293.65 L179.50,293.65 L176.40,298.67 Z" fill="none" stroke="#1010ff" stroke-width="0.6"/>
<path d="M154.3,310.1 H198.2 M154.3,308.0 V312.20000000000005 M198.2,308.0 V312.20000000000005" stroke="#ff22ff" stroke-width="0.6" fill="none"/>
<rect x="173.30" y="307.00" width="6.2" height="6.2" fill="none" stroke="#ff22ff" stroke-width="0.6"/>
<path d="M154.3,325.1 H198.2 M154.3,323.0 V327.20000000000005 M198.2,323.0 V327.20000000000005" stroke="#ff1a1a" stroke-width="0.6" fill="none"/>
<path d="M173.30,325.10 L176.40,321.75 L179.50,325.10 L176.40,328.45 Z" fill="none" stroke="#ff1a1a" stroke-width="0.6"/>
<path d="M77.9,14.9 H523.4 V340.2 H77.9 Z M77.9,177.1 H523.4" fill="none" stroke="#000" stroke-width="1"/>
<path d="M141.54,340.2 v-4.3 M141.54,177.1 v4.3 M205.19,340.2 v-4.3 M205.19,177.1 v4.3 M268.83,340.2 v-4.3 M268.83,177.1 v4.3 M332.47,340.2 v-4.3 M332.47,177.1 v4.3 M396.11,340.2 v-4.3 M396.11,177.1 v4.3 M459.76,340.2 v-4.3 M459.76,177.1 v4.3 M77.9,28.42 h4.3 M523.4,28.42 h-4.3 M77.9,55.45 h4.3 M523.4,55.45 h-4.3 M77.9,82.48 h4.3 M523.4,82.48 h-4.3 M77.9,109.52 h4.3 M523.4,109.52 h-4.3 M77.9,136.55 h4.3 M523.4,136.55 h-4.3 M77.9,163.58 h4.3 M523.4,163.58 h-4.3 M77.9,190.69 h4.3 M523.4,190.69 h-4.3 M77.9,217.88 h4.3 M523.4,217.88 h-4.3 M77.9,245.06 h4.3 M523.4,245.06 h-4.3 M77.9,272.24 h4.3 M523.4,272.24 h-4.3 M77.9,299.43 h4.3 M523.4,299.43 h-4.3 M77.9,326.61 h4.3 M523.4,326.61 h-4.3" fill="none" stroke="#000" stroke-width="0.8"/>
<text x="68.10" y="33.17" style="font-size:14.9px" text-anchor="end">-0.06</text>
<text x="68.10" y="60.20" style="font-size:14.9px" text-anchor="end">-0.08</text>
<text x="68.10" y="87.23" style="font-size:14.9px" text-anchor="end">-0.1</text>
<text x="68.10" y="114.27" style="font-size:14.9px" text-anchor="end">-0.12</text>
<text x="68.10" y="141.30" style="font-size:14.9px" text-anchor="end">-0.14</text>
<text x="68.10" y="168.33" style="font-size:14.9px" text-anchor="end">-0.16</text>
<text x="68.10" y="195.44" style="font-size:14.9px" text-anchor="end">-0.06</text>
<text x="68.10" y="222.62" style="font-size:14.9px" text-anchor="end">-0.08</text>
<text x="68.10" y="249.81" style="font-size:14.9px" text-anchor="end">-0.1</text>
<text x="68.10" y="276.99" style="font-size:14.9px" text-anchor="end">-0.12</text>
<text x="68.10" y="304.18" style="font-size:14.9px" text-anchor="end">-0.14</text>
<text x="68.10" y="331.36" style="font-size:14.9px" text-anchor="end">-0.16</text>
<text x="80.35" y="359.80" style="font-size:14.9px" text-anchor="middle">0</text>
<text x="143.99" y="359.80" style="font-size:14.9px" text-anchor="middle">0.5</text>
<text x="207.64" y="359.80" style="font-size:14.9px" text-anchor="middle">1</text>
<text x="271.28" y="359.80" style="font-size:14.9px" text-anchor="middle">1.5</text>
<text x="334.92" y="359.80" style="font-size:14.9px" text-anchor="middle">2</text>
<text x="398.56" y="359.80" style="font-size:14.9px" text-anchor="middle">2.5</text>
<text x="462.21" y="359.80" style="font-size:14.9px" text-anchor="middle">3</text>
<text x="525.85" y="359.80" style="font-size:14.9px" text-anchor="middle">3.5</text>
<text x="211.90" y="46.30" style="font-size:14.9px" textLength="18.90" lengthAdjust="spacingAndGlyphs">LC</text>
<path d="M232.0,41.50 h10.9 M237.45,36.00 v11" stroke="#000" stroke-width="0.75" fill="none"/>
<text x="244.20" y="46.30" style="font-size:14.9px" font-style="italic" textLength="10.60" lengthAdjust="spacingAndGlyphs">O</text>
<text x="256.30" y="46.30" style="font-size:17px" textLength="5.00" lengthAdjust="spacingAndGlyphs">(</text>
<text x="261.40" y="46.30" style="font-size:14.9px" font-style="italic" textLength="10.60" lengthAdjust="spacingAndGlyphs">R</text>
<path d="M273.4,38.90 h7.5" stroke="#000" stroke-width="0.7" fill="none"/>
<text x="281.80" y="41.30" style="font-size:10.4px" textLength="5.70" lengthAdjust="spacingAndGlyphs">4</text>
<text x="288.90" y="46.30" style="font-size:17px" textLength="5.00" lengthAdjust="spacingAndGlyphs">)</text>
<text x="211.90" y="209.30" style="font-size:14.9px" textLength="18.90" lengthAdjust="spacingAndGlyphs">LC</text>
<path d="M232.0,204.50 h10.9 M237.45,199.00 v11" stroke="#000" stroke-width="0.75" fill="none"/>
<text x="244.20" y="209.30" style="font-size:14.9px" font-style="italic" textLength="10.60" lengthAdjust="spacingAndGlyphs">O</text>
<text x="256.30" y="209.30" style="font-size:17px" textLength="5.00" lengthAdjust="spacingAndGlyphs">(</text>
<text x="261.40" y="209.30" style="font-size:14.9px" font-style="italic" textLength="10.60" lengthAdjust="spacingAndGlyphs">R</text>
<path d="M273.4,201.90 h7.5" stroke="#000" stroke-width="0.7" fill="none"/>
<text x="281.80" y="204.30" style="font-size:10.4px" textLength="5.70" lengthAdjust="spacingAndGlyphs">4</text>
<text x="288.90" y="209.30" style="font-size:17px" textLength="5.00" lengthAdjust="spacingAndGlyphs">)</text>
<text x="498.50" y="117.60" style="font-size:14.9px" textLength="18.30" lengthAdjust="spacingAndGlyphs">LT</text>
<text x="498.80" y="280.30" style="font-size:14.9px" textLength="18.30" lengthAdjust="spacingAndGlyphs">LT</text>
<text x="256.10" y="167.80" style="font-size:14.9px" textLength="20.00" lengthAdjust="spacingAndGlyphs">LC</text>
<text x="256.10" y="330.30" style="font-size:14.9px" textLength="20.00" lengthAdjust="spacingAndGlyphs">LC</text>
<text x="90.60" y="100.50" style="font-size:14.9px" textLength="19.20" lengthAdjust="spacingAndGlyphs">SU</text>
<text x="110.40" y="100.50" style="font-size:17px" textLength="5.20" lengthAdjust="spacingAndGlyphs">(</text>
<text x="115.40" y="100.50" style="font-size:14.9px" textLength="7.80" lengthAdjust="spacingAndGlyphs">2</text>
<text x="123.90" y="100.50" style="font-size:17px" textLength="5.20" lengthAdjust="spacingAndGlyphs">)</text>
<text x="90.60" y="272.30" style="font-size:14.9px" textLength="19.20" lengthAdjust="spacingAndGlyphs">SU</text>
<text x="110.40" y="272.30" style="font-size:17px" textLength="5.20" lengthAdjust="spacingAndGlyphs">(</text>
<text x="115.40" y="272.30" style="font-size:14.9px" textLength="7.80" lengthAdjust="spacingAndGlyphs">3</text>
<text x="123.90" y="272.30" style="font-size:17px" textLength="5.20" lengthAdjust="spacingAndGlyphs">)</text>
<text x="127.40" y="122.90" style="font-size:14.9px" textLength="18.70" lengthAdjust="spacingAndGlyphs">7.5</text>
<path d="M110.80,117.50 h10.4 M110.80,120.50 h10.4" stroke="#000" stroke-width="0.75" fill="none"/>
<text x="97.19" y="122.90" style="font-size:14.5px" font-style="italic" textLength="8.20" lengthAdjust="spacingAndGlyphs">β</text>
<text x="118.10" y="137.90" style="font-size:14.9px" textLength="27.50" lengthAdjust="spacingAndGlyphs">10.0</text>
<path d="M102.70,132.50 h10.4 M102.70,135.50 h10.4" stroke="#000" stroke-width="0.75" fill="none"/>
<text x="89.90" y="137.90" style="font-size:14.5px" font-style="italic" textLength="8.20" lengthAdjust="spacingAndGlyphs">β</text>
<text x="118.10" y="153.10" style="font-size:14.9px" textLength="27.50" lengthAdjust="spacingAndGlyphs">12.5</text>
<path d="M102.70,147.70 h10.4 M102.70,150.70 h10.4" stroke="#000" stroke-width="0.75" fill="none"/>
<text x="89.90" y="153.10" style="font-size:14.5px" font-style="italic" textLength="8.20" lengthAdjust="spacingAndGlyphs">β</text>
<text x="118.10" y="168.00" style="font-size:14.9px" textLength="27.50" lengthAdjust="spacingAndGlyphs">16.0</text>
<path d="M102.70,162.60 h10.4 M102.70,165.60 h10.4" stroke="#000" stroke-width="0.75" fill="none"/>
<text x="89.90" y="168.00" style="font-size:14.5px" font-style="italic" textLength="8.20" lengthAdjust="spacingAndGlyphs">β</text>
<text x="118.10" y="299.30" style="font-size:14.9px" textLength="27.50" lengthAdjust="spacingAndGlyphs">20.0</text>
<path d="M102.70,293.90 h10.4 M102.70,296.90 h10.4" stroke="#000" stroke-width="0.75" fill="none"/>
<text x="89.90" y="299.30" style="font-size:14.5px" font-style="italic" textLength="8.20" lengthAdjust="spacingAndGlyphs">β</text>
<text x="118.10" y="314.20" style="font-size:14.9px" textLength="27.50" lengthAdjust="spacingAndGlyphs">25.0</text>
<path d="M102.70,308.80 h10.4 M102.70,311.80 h10.4" stroke="#000" stroke-width="0.75" fill="none"/>
<text x="89.90" y="314.20" style="font-size:14.5px" font-style="italic" textLength="8.20" lengthAdjust="spacingAndGlyphs">β</text>
<text x="118.10" y="328.90" style="font-size:14.9px" textLength="27.50" lengthAdjust="spacingAndGlyphs">31.0</text>
<path d="M102.70,323.50 h10.4 M102.70,326.50 h10.4" stroke="#000" stroke-width="0.75" fill="none"/>
<text x="89.90" y="328.90" style="font-size:14.5px" font-style="italic" textLength="8.20" lengthAdjust="spacingAndGlyphs">β</text>
<text x="285.40" y="382.80" style="font-size:14.9px" font-style="italic" textLength="10.20" lengthAdjust="spacingAndGlyphs">R</text>
<text x="296.30" y="382.80" style="font-size:14.9px" textLength="5.80" lengthAdjust="spacingAndGlyphs" transform="translate(0,1.2)">/</text>
<text x="303.30" y="382.80" style="font-size:14.9px" font-style="italic" textLength="5.30" lengthAdjust="spacingAndGlyphs">r</text>
<text x="310.10" y="385.30" style="font-size:10.4px" textLength="6.20" lengthAdjust="spacingAndGlyphs">0</text>
<g transform="translate(16.2,189.5) rotate(-90)">
<text x="0.00" y="0.00" style="font-size:14.9px" font-style="italic" textLength="5.60" lengthAdjust="spacingAndGlyphs">c</text>
<text x="7.10" y="0.00" style="font-size:17px" textLength="5.00" lengthAdjust="spacingAndGlyphs">(</text>
<text x="12.00" y="0.00" style="font-size:14.9px" font-style="italic" textLength="10.30" lengthAdjust="spacingAndGlyphs">R</text>
<text x="23.20" y="0.00" style="font-size:17px" textLength="5.00" lengthAdjust="spacingAndGlyphs">)</text>
</g>
</svg></body></html>
